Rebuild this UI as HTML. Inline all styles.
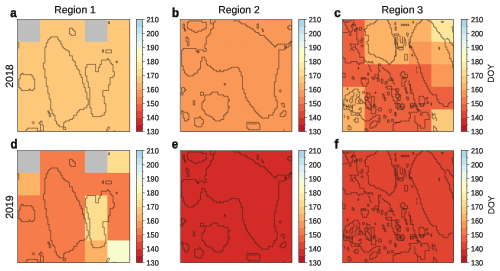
<!DOCTYPE html>
<html><head><meta charset="utf-8"><title>DOY maps</title>
<style>html,body{margin:0;padding:0;background:#fff}svg{display:block}text{font-family:"Liberation Sans",sans-serif;fill:#111}</style></head><body>
<svg width="500" height="271" viewBox="0 0 500 271">
<rect width="500" height="271" fill="#fff"/>
<defs><linearGradient id="cbg" x1="0" y1="0" x2="0" y2="1"><stop offset="0.00000" stop-color="#aad8e9"/><stop offset="0.06741" stop-color="#aad8e9"/><stop offset="0.06741" stop-color="#c1e4ef"/><stop offset="0.12991" stop-color="#c1e4ef"/><stop offset="0.12991" stop-color="#d8eff6"/><stop offset="0.19241" stop-color="#d8eff6"/><stop offset="0.19241" stop-color="#eaf7e6"/><stop offset="0.25491" stop-color="#eaf7e6"/><stop offset="0.25491" stop-color="#f7fcce"/><stop offset="0.31741" stop-color="#f7fcce"/><stop offset="0.31741" stop-color="#fffab7"/><stop offset="0.37991" stop-color="#fffab7"/><stop offset="0.37991" stop-color="#feeca2"/><stop offset="0.44241" stop-color="#feeca2"/><stop offset="0.44241" stop-color="#fede8e"/><stop offset="0.50491" stop-color="#fede8e"/><stop offset="0.50491" stop-color="#fec87a"/><stop offset="0.56741" stop-color="#fec87a"/><stop offset="0.56741" stop-color="#fdb366"/><stop offset="0.62991" stop-color="#fdb366"/><stop offset="0.62991" stop-color="#fa9857"/><stop offset="0.69241" stop-color="#fa9857"/><stop offset="0.69241" stop-color="#f67c4a"/><stop offset="0.75491" stop-color="#f67c4a"/><stop offset="0.75491" stop-color="#ee613e"/><stop offset="0.81741" stop-color="#ee613e"/><stop offset="0.81741" stop-color="#e14430"/><stop offset="0.87991" stop-color="#e14430"/><stop offset="0.87991" stop-color="#d22b27"/><stop offset="0.94241" stop-color="#d22b27"/><stop offset="0.94241" stop-color="#bd1726"/><stop offset="1.00000" stop-color="#bd1726"/></linearGradient></defs>
<g>
<clipPath id="cf00"><rect x="17.75" y="19.95" width="112.30" height="111.80"/></clipPath>
<g clip-path="url(#cf00)">
<rect x="17.60" y="19.25" width="23.74" height="23.82" fill="#bebebe"/>
<rect x="40.04" y="19.25" width="23.74" height="23.82" fill="#fec87a"/>
<rect x="62.48" y="19.25" width="23.74" height="23.82" fill="#fec87a"/>
<rect x="84.92" y="19.25" width="23.74" height="23.82" fill="#bebebe"/>
<rect x="107.36" y="19.25" width="23.74" height="23.82" fill="#fec87a"/>
<rect x="17.60" y="41.77" width="23.74" height="23.82" fill="#fec87a"/>
<rect x="40.04" y="41.77" width="23.74" height="23.82" fill="#fec87a"/>
<rect x="62.48" y="41.77" width="23.74" height="23.82" fill="#fec87a"/>
<rect x="84.92" y="41.77" width="23.74" height="23.82" fill="#fec87a"/>
<rect x="107.36" y="41.77" width="23.74" height="23.82" fill="#fec87a"/>
<rect x="17.60" y="64.29" width="23.74" height="23.82" fill="#fec87a"/>
<rect x="40.04" y="64.29" width="23.74" height="23.82" fill="#fec87a"/>
<rect x="62.48" y="64.29" width="23.74" height="23.82" fill="#fec87a"/>
<rect x="84.92" y="64.29" width="23.74" height="23.82" fill="#fec87a"/>
<rect x="107.36" y="64.29" width="23.74" height="23.82" fill="#fec87a"/>
<rect x="17.60" y="86.81" width="23.74" height="23.82" fill="#fec87a"/>
<rect x="40.04" y="86.81" width="23.74" height="23.82" fill="#fec87a"/>
<rect x="62.48" y="86.81" width="23.74" height="23.82" fill="#fec87a"/>
<rect x="84.92" y="86.81" width="23.74" height="23.82" fill="#fec87a"/>
<rect x="107.36" y="86.81" width="23.74" height="23.82" fill="#fec87a"/>
<rect x="17.60" y="109.33" width="23.74" height="23.82" fill="#fec87a"/>
<rect x="40.04" y="109.33" width="23.74" height="23.82" fill="#fec87a"/>
<rect x="62.48" y="109.33" width="23.74" height="23.82" fill="#fec87a"/>
<rect x="84.92" y="109.33" width="23.74" height="23.82" fill="#fec87a"/>
<rect x="107.36" y="109.33" width="23.74" height="23.82" fill="#fec87a"/>
</g>
<clipPath id="cp00"><rect x="17.3" y="19.5" width="112.50" height="112.00"/></clipPath>
<path clip-path="url(#cp00)" d="M52.1 36.9 L53.5 36.9 L55.0 36.9 L56.5 36.9 L57.9 36.9 L57.9 38.4 L57.9 39.8 L59.3 39.8 L59.3 41.2 L60.8 41.2 L60.8 42.7 L60.8 44.1 L62.2 44.1 L62.2 45.6 L62.2 47.1 L63.7 47.1 L63.7 48.5 L65.2 48.5 L65.2 49.9 L66.6 49.9 L68.0 49.9 L68.0 51.4 L69.5 51.4 L69.5 52.9 L69.5 54.3 L69.5 55.8 L71.0 55.8 L72.4 55.8 L72.4 57.2 L72.4 58.6 L72.4 60.1 L73.8 60.1 L73.8 61.5 L75.3 61.5 L75.3 63.0 L75.3 64.4 L75.3 65.9 L76.8 65.9 L76.8 67.3 L76.8 68.8 L78.2 68.8 L78.2 70.2 L79.7 70.2 L79.7 71.7 L79.7 73.2 L79.7 74.6 L81.1 74.6 L81.1 76.0 L81.1 77.5 L82.5 77.5 L82.5 78.9 L82.5 80.4 L82.5 81.8 L82.5 83.3 L84.0 83.3 L84.0 84.8 L84.0 86.2 L84.0 87.6 L85.4 87.6 L85.4 89.1 L85.4 90.5 L85.4 92.0 L86.9 92.0 L86.9 93.4 L86.9 94.9 L86.9 96.3 L86.9 97.8 L86.9 99.2 L88.3 99.2 L88.3 100.7 L88.3 102.1 L88.3 103.6 L88.3 105.0 L86.9 105.0 L86.9 106.5 L86.9 107.9 L85.4 107.9 L84.0 107.9 L84.0 109.4 L82.5 109.4 L81.1 109.4 L79.7 109.4 L79.7 110.8 L78.2 110.8 L78.2 112.3 L76.8 112.3 L76.8 113.8 L76.8 115.2 L75.3 115.2 L73.8 115.2 L73.8 116.6 L73.8 118.1 L72.4 118.1 L72.4 119.5 L71.0 119.5 L69.5 119.5 L69.5 121.0 L68.0 121.0 L66.6 121.0 L65.2 121.0 L65.2 122.4 L63.7 122.4 L63.7 123.9 L63.7 125.3 L63.7 126.8 L62.2 126.8 L60.8 126.8 L59.3 126.8 L59.3 125.3 L57.9 125.3 L57.9 123.9 L56.5 123.9 L56.5 122.4 L56.5 121.0 L55.0 121.0 L55.0 119.5 L55.0 118.1 L55.0 116.6 L55.0 115.2 L53.5 115.2 L53.5 113.8 L52.1 113.8 L52.1 112.3 L52.1 110.8 L52.1 109.4 L50.7 109.4 L50.7 107.9 L50.7 106.5 L50.7 105.0 L50.7 103.6 L50.7 102.1 L50.7 100.7 L50.7 99.2 L49.2 99.2 L49.2 97.8 L49.2 96.3 L49.2 94.9 L49.2 93.4 L47.8 93.4 L47.8 92.0 L47.8 90.5 L47.8 89.1 L47.8 87.6 L47.8 86.2 L46.3 86.2 L46.3 84.8 L46.3 83.3 L46.3 81.8 L46.3 80.4 L46.3 78.9 L46.3 77.5 L44.9 77.5 L44.9 76.0 L44.9 74.6 L44.9 73.2 L44.9 71.7 L44.9 70.2 L44.9 68.8 L43.4 68.8 L43.4 67.3 L43.4 65.9 L43.4 64.4 L43.4 63.0 L44.9 63.0 L44.9 61.5 L44.9 60.1 L44.9 58.6 L44.9 57.2 L44.9 55.8 L44.9 54.3 L44.9 52.9 L44.9 51.4 L44.9 49.9 L44.9 48.5 L44.9 47.1 L46.3 47.1 L46.3 45.6 L46.3 44.1 L46.3 42.7 L47.8 42.7 L47.8 41.2 L47.8 39.8 L49.2 39.8 L49.2 38.4 L50.7 38.4 L50.7 36.9Z M86.9 64.4 L88.3 64.4 L89.8 64.4 L91.2 64.4 L92.7 64.4 L94.1 64.4 L95.6 64.4 L95.6 65.9 L95.6 67.3 L95.6 68.8 L95.6 70.2 L95.6 71.7 L97.0 71.7 L98.5 71.7 L98.5 70.2 L98.5 68.8 L98.5 67.3 L99.9 67.3 L99.9 65.9 L99.9 64.4 L101.4 64.4 L101.4 63.0 L101.4 61.5 L101.4 60.1 L102.8 60.1 L104.3 60.1 L105.8 60.1 L107.2 60.1 L107.2 58.6 L108.6 58.6 L108.6 60.1 L110.1 60.1 L110.1 61.5 L110.1 63.0 L111.5 63.0 L111.5 64.4 L113.0 64.4 L113.0 65.9 L113.0 67.3 L113.0 68.8 L113.0 70.2 L113.0 71.7 L114.4 71.7 L114.4 73.2 L114.4 74.6 L114.4 76.0 L113.0 76.0 L113.0 77.5 L111.5 77.5 L110.1 77.5 L110.1 78.9 L110.1 80.4 L110.1 81.8 L110.1 83.3 L110.1 84.8 L108.6 84.8 L108.6 86.2 L108.6 87.6 L108.6 89.1 L108.6 90.5 L107.2 90.5 L105.8 90.5 L104.3 90.5 L102.8 90.5 L102.8 92.0 L102.8 93.4 L102.8 94.9 L102.8 96.3 L104.3 96.3 L104.3 97.8 L104.3 99.2 L104.3 100.7 L104.3 102.1 L104.3 103.6 L105.8 103.6 L105.8 105.0 L105.8 106.5 L105.8 107.9 L105.8 109.4 L105.8 110.8 L105.8 112.3 L104.3 112.3 L104.3 113.8 L104.3 115.2 L102.8 115.2 L101.4 115.2 L101.4 116.6 L99.9 116.6 L98.5 116.6 L97.0 116.6 L95.6 116.6 L94.1 116.6 L92.7 116.6 L92.7 115.2 L92.7 113.8 L91.2 113.8 L91.2 112.3 L91.2 110.8 L91.2 109.4 L91.2 107.9 L89.8 107.9 L89.8 106.5 L89.8 105.0 L89.8 103.6 L89.8 102.1 L89.8 100.7 L89.8 99.2 L89.8 97.8 L89.8 96.3 L89.8 94.9 L89.8 93.4 L89.8 92.0 L89.8 90.5 L89.8 89.1 L89.8 87.6 L88.3 87.6 L88.3 86.2 L88.3 84.8 L88.3 83.3 L88.3 81.8 L86.9 81.8 L86.9 80.4 L86.9 78.9 L86.9 77.5 L86.9 76.0 L85.4 76.0 L85.4 74.6 L85.4 73.2 L85.4 71.7 L85.4 70.2 L85.4 68.8 L85.4 67.3 L86.9 67.3 L86.9 65.9Z M21.6 73.2 L23.1 73.2 L23.1 74.6 L24.6 74.6 L26.0 74.6 L27.5 74.6 L28.9 74.6 L30.4 74.6 L31.8 74.6 L31.8 76.0 L33.2 76.0 L33.2 77.5 L33.2 78.9 L34.7 78.9 L34.7 80.4 L34.7 81.8 L34.7 83.3 L34.7 84.8 L34.7 86.2 L34.7 87.6 L34.7 89.1 L33.2 89.1 L33.2 90.5 L31.8 90.5 L30.4 90.5 L30.4 89.1 L28.9 89.1 L28.9 90.5 L27.5 90.5 L26.0 90.5 L24.6 90.5 L23.1 90.5 L21.6 90.5 L21.6 89.1 L20.2 89.1 L20.2 87.6 L18.8 87.6 L18.8 86.2 L18.8 84.8 L18.8 83.3 L18.8 81.8 L18.8 80.4 L18.8 78.9 L20.2 78.9 L20.2 77.5 L20.2 76.0 L20.2 74.6 L21.6 74.6Z M69.5 29.6 L69.5 28.2 L71.0 28.2 L72.4 28.2 L72.4 29.6 L73.8 29.6 L73.8 31.1 L75.3 31.1 L75.3 32.5 L75.3 34.0 L75.3 35.4 L73.8 35.4 L72.4 35.4 L71.0 35.4 L71.0 34.0 L69.5 34.0 L69.5 32.5 L69.5 31.1Z M108.3 21.6 L109.5 21.6 L109.5 23.8 L108.3 23.8Z M102.4 49.8 L103.5 49.8 L103.5 52.3 L102.4 52.3Z M105.8 49.9 L107.2 49.9 L108.6 49.9 L110.1 49.9 L111.5 49.9 L111.5 51.4 L111.5 52.9 L110.1 52.9 L108.6 52.9 L107.2 52.9 L105.8 52.9 L105.8 51.4Z M116.0 61.1 L117.4 61.1 L117.4 62.6 L116.0 62.6Z M63.3 127.3 L65.7 127.3 L65.7 129.5 L63.3 129.5Z M47.8 110.8 L49.2 110.8 L49.2 112.3 L49.2 113.8 L50.7 113.8 L50.7 115.2 L50.7 116.6 L49.2 116.6 L49.2 115.2 L49.2 113.8 L49.2 112.3 L47.8 112.3Z M34.5 122.6 L34.1 123.4 L33.3 123.8 L32.5 123.4 L32.1 122.6 L32.5 121.8 L33.3 121.4 L34.1 121.8Z M39.0 122.4 L40.5 122.4 L40.5 121.0 L42.0 121.0 L42.0 122.4 L42.0 123.9 L42.0 125.3 L43.4 125.3 L43.4 126.8 L43.4 128.2 L43.4 129.7 L43.4 131.1 L42.0 131.1 L40.5 131.1 L40.5 129.7 L40.5 128.2 L40.5 126.8 L40.5 125.3 L40.5 123.9 L39.0 123.9Z M26.0 131.1 L26.0 129.7 L27.5 129.7 L27.5 128.2 L28.9 128.2 L30.4 128.2 L31.8 128.2 L33.2 128.2 L34.7 128.2 L36.1 128.2 L37.6 128.2 L37.6 129.7 L37.6 131.1 L39.0 131.1 L40.5 131.1 M106.5 130.6 L107.7 127.3 L109.2 126.8 L109.5 128.3 L108.0 130.6Z M113.0 131.2 L116.0 131.2 M17.3 42.7 L18.8 42.7 L18.8 44.1 L18.8 45.6 L18.8 47.1 L18.8 48.5" fill="none" stroke="#2a2118" stroke-width="0.5" stroke-linejoin="miter"/>
<rect x="17.3" y="19.5" width="112.50" height="112.00" fill="none" stroke="#333" stroke-width="0.6"/>
</g>
<g>
<rect x="136.3" y="19.5" width="6.20" height="112.00" fill="url(#cbg)"/>
<rect x="136.3" y="19.5" width="6.20" height="112.00" fill="none" stroke="#333" stroke-width="0.6"/>
<line x1="142.5" y1="131.50" x2="144.70" y2="131.50" stroke="#222" stroke-width="0.5"/>
<text transform="translate(146.50 134.35) scale(0.95 1) rotate(0.05)" font-size="7.7" fill="#000" stroke="#000" stroke-width="0.2">130</text>
<line x1="142.5" y1="117.50" x2="144.70" y2="117.50" stroke="#222" stroke-width="0.5"/>
<text transform="translate(146.50 120.35) scale(0.95 1) rotate(0.05)" font-size="7.7" fill="#000" stroke="#000" stroke-width="0.2">140</text>
<line x1="142.5" y1="103.50" x2="144.70" y2="103.50" stroke="#222" stroke-width="0.5"/>
<text transform="translate(146.50 106.35) scale(0.95 1) rotate(0.05)" font-size="7.7" fill="#000" stroke="#000" stroke-width="0.2">150</text>
<line x1="142.5" y1="89.50" x2="144.70" y2="89.50" stroke="#222" stroke-width="0.5"/>
<text transform="translate(146.50 92.35) scale(0.95 1) rotate(0.05)" font-size="7.7" fill="#000" stroke="#000" stroke-width="0.2">160</text>
<line x1="142.5" y1="75.50" x2="144.70" y2="75.50" stroke="#222" stroke-width="0.5"/>
<text transform="translate(146.50 78.35) scale(0.95 1) rotate(0.05)" font-size="7.7" fill="#000" stroke="#000" stroke-width="0.2">170</text>
<line x1="142.5" y1="61.50" x2="144.70" y2="61.50" stroke="#222" stroke-width="0.5"/>
<text transform="translate(146.50 64.35) scale(0.95 1) rotate(0.05)" font-size="7.7" fill="#000" stroke="#000" stroke-width="0.2">180</text>
<line x1="142.5" y1="47.50" x2="144.70" y2="47.50" stroke="#222" stroke-width="0.5"/>
<text transform="translate(146.50 50.35) scale(0.95 1) rotate(0.05)" font-size="7.7" fill="#000" stroke="#000" stroke-width="0.2">190</text>
<line x1="142.5" y1="33.50" x2="144.70" y2="33.50" stroke="#222" stroke-width="0.5"/>
<text transform="translate(146.50 36.35) scale(0.95 1) rotate(0.05)" font-size="7.7" fill="#000" stroke="#000" stroke-width="0.2">200</text>
<line x1="142.5" y1="19.50" x2="144.70" y2="19.50" stroke="#222" stroke-width="0.5"/>
<text transform="translate(146.50 22.35) scale(0.95 1) rotate(0.05)" font-size="7.7" fill="#000" stroke="#000" stroke-width="0.2">210</text>
<line x1="142.50" y1="124.50" x2="143.50" y2="124.50" stroke="#222" stroke-width="0.5"/>
<line x1="142.50" y1="110.50" x2="143.50" y2="110.50" stroke="#222" stroke-width="0.5"/>
<line x1="142.50" y1="96.50" x2="143.50" y2="96.50" stroke="#222" stroke-width="0.5"/>
<line x1="142.50" y1="82.50" x2="143.50" y2="82.50" stroke="#222" stroke-width="0.5"/>
<line x1="142.50" y1="68.50" x2="143.50" y2="68.50" stroke="#222" stroke-width="0.5"/>
<line x1="142.50" y1="54.50" x2="143.50" y2="54.50" stroke="#222" stroke-width="0.5"/>
<line x1="142.50" y1="40.50" x2="143.50" y2="40.50" stroke="#222" stroke-width="0.5"/>
<line x1="142.50" y1="26.50" x2="143.50" y2="26.50" stroke="#222" stroke-width="0.5"/>
</g>
<g>
<clipPath id="cf01"><rect x="180.65" y="19.95" width="111.50" height="111.80"/></clipPath>
<g clip-path="url(#cf01)">
<rect x="180.40" y="19.25" width="23.62" height="23.82" fill="#fa9857"/>
<rect x="202.72" y="19.25" width="23.62" height="23.82" fill="#fa9857"/>
<rect x="225.04" y="19.25" width="23.62" height="23.82" fill="#fa9857"/>
<rect x="247.36" y="19.25" width="23.62" height="23.82" fill="#fa9857"/>
<rect x="269.68" y="19.25" width="23.62" height="23.82" fill="#fa9857"/>
<rect x="180.40" y="41.77" width="23.62" height="23.82" fill="#fa9857"/>
<rect x="202.72" y="41.77" width="23.62" height="23.82" fill="#fa9857"/>
<rect x="225.04" y="41.77" width="23.62" height="23.82" fill="#fa9857"/>
<rect x="247.36" y="41.77" width="23.62" height="23.82" fill="#fa9857"/>
<rect x="269.68" y="41.77" width="23.62" height="23.82" fill="#fa9857"/>
<rect x="180.40" y="64.29" width="23.62" height="23.82" fill="#fa9857"/>
<rect x="202.72" y="64.29" width="23.62" height="23.82" fill="#fa9857"/>
<rect x="225.04" y="64.29" width="23.62" height="23.82" fill="#fa9857"/>
<rect x="247.36" y="64.29" width="23.62" height="23.82" fill="#fa9857"/>
<rect x="269.68" y="64.29" width="23.62" height="23.82" fill="#fa9857"/>
<rect x="180.40" y="86.81" width="23.62" height="23.82" fill="#fa9857"/>
<rect x="202.72" y="86.81" width="23.62" height="23.82" fill="#fa9857"/>
<rect x="225.04" y="86.81" width="23.62" height="23.82" fill="#fa9857"/>
<rect x="247.36" y="86.81" width="23.62" height="23.82" fill="#fa9857"/>
<rect x="269.68" y="86.81" width="23.62" height="23.82" fill="#fa9857"/>
<rect x="180.40" y="109.33" width="23.62" height="23.82" fill="#fa9857"/>
<rect x="202.72" y="109.33" width="23.62" height="23.82" fill="#fa9857"/>
<rect x="225.04" y="109.33" width="23.62" height="23.82" fill="#fa9857"/>
<rect x="247.36" y="109.33" width="23.62" height="23.82" fill="#fa9857"/>
<rect x="269.68" y="109.33" width="23.62" height="23.82" fill="#fa9857"/>
</g>
<clipPath id="cp01"><rect x="180.2" y="19.5" width="111.70" height="112.00"/></clipPath>
<path clip-path="url(#cp01)" d="M210.6 19.5 L210.6 20.9 L210.6 22.4 L210.6 23.9 L212.1 23.9 L213.5 23.9 L213.5 25.3 L213.5 26.8 L213.5 28.2 L212.1 28.2 L212.1 29.6 L210.6 29.6 L210.6 31.1 L210.6 32.5 L210.6 34.0 L209.2 34.0 L209.2 35.4 L207.8 35.4 L207.8 36.9 L206.3 36.9 L206.3 38.4 L206.3 39.8 L206.3 41.2 L206.3 42.7 L206.3 44.1 L204.8 44.1 L204.8 45.6 L204.8 47.1 L204.8 48.5 L206.3 48.5 L206.3 49.9 L206.3 51.4 L204.8 51.4 L203.4 51.4 L203.4 49.9 L201.9 49.9 L200.5 49.9 L199.0 49.9 L197.6 49.9 L197.6 51.4 L199.0 51.4 L199.0 52.9 L197.6 52.9 L197.6 51.4 L196.1 51.4 L196.1 49.9 L196.1 48.5 L194.7 48.5 L193.2 48.5 L191.8 48.5 L190.3 48.5 L188.9 48.5 L187.4 48.5 L186.0 48.5 L184.5 48.5 L183.1 48.5 L183.1 49.9 L181.6 49.9 L181.6 51.4 L181.6 52.9 L181.6 54.3 L181.6 55.8 L181.6 57.2 L181.6 58.6 L181.6 60.1 L181.6 61.5 L181.6 63.0 L181.6 64.4 L181.6 65.9 L183.1 65.9 L183.1 67.3 L183.1 68.8 L183.1 70.2 L184.5 70.2 L184.5 71.7 L184.5 73.2 L186.0 73.2 L186.0 74.6 L187.4 74.6 L187.4 76.0 L188.9 76.0 L190.3 76.0 L191.8 76.0 L193.2 76.0 L193.2 74.6 L194.7 74.6 L194.7 73.2 L196.1 73.2 L197.6 73.2 L197.6 71.7 L197.6 70.2 L199.0 70.2 L199.0 68.8 L200.5 68.8 L200.5 67.3 L200.5 65.9 L200.5 64.4 L200.5 63.0 L200.5 61.5 L201.9 61.5 L201.9 60.1 L201.9 58.6 L201.9 57.2 L203.4 57.2 L204.8 57.2 L204.8 58.6 L204.8 60.1 L206.3 60.1 L206.3 61.5 L206.3 63.0 L206.3 64.4 L207.8 64.4 L207.8 65.9 L209.2 65.9 L210.6 65.9 L210.6 67.3 L212.1 67.3 L212.1 68.8 L213.5 68.8 L213.5 70.2 L215.0 70.2 L216.4 70.2 L216.4 71.7 L217.9 71.7 L219.3 71.7 L219.3 70.2 L220.8 70.2 L220.8 71.7 L222.2 71.7 L223.7 71.7 L223.7 70.2 L225.1 70.2 L226.6 70.2 L228.0 70.2 L228.0 68.8 L229.5 68.8 L230.9 68.8 L230.9 67.3 L232.4 67.3 L233.8 67.3 L235.3 67.3 L236.8 67.3 L238.2 67.3 L238.2 68.8 L239.6 68.8 L239.6 70.2 L239.6 71.7 L241.1 71.7 L241.1 73.2 L241.1 74.6 L241.1 76.0 L242.5 76.0 L242.5 77.5 L242.5 78.9 L242.5 80.4 L242.5 81.8 L242.5 83.3 L242.5 84.8 L242.5 86.2 L242.5 87.6 L242.5 89.1 L244.0 89.1 L244.0 90.5 L244.0 92.0 L244.0 93.4 L245.4 93.4 L245.4 94.9 L245.4 96.3 L245.4 97.8 L246.9 97.8 L246.9 99.2 L246.9 100.7 L248.3 100.7 L248.3 102.1 L249.8 102.1 L249.8 103.6 L249.8 105.0 L251.2 105.0 L251.2 106.5 L252.7 106.5 L252.7 107.9 L254.1 107.9 L254.1 109.4 L254.1 110.8 L255.6 110.8 L255.6 112.3 L257.0 112.3 L257.0 113.8 L258.5 113.8 L258.5 115.2 L259.9 115.2 L259.9 116.6 L261.4 116.6 L261.4 118.1 L262.8 118.1 L264.3 118.1 L265.8 118.1 L267.2 118.1 L268.6 118.1 L268.6 116.6 L268.6 115.2 L270.1 115.2 L271.5 115.2 L273.0 115.2 L273.0 113.8 L273.0 112.3 L274.4 112.3 L274.4 110.8 L274.4 109.4 L275.9 109.4 L275.9 107.9 L277.3 107.9 L277.3 106.5 L277.3 105.0 L277.3 103.6 L277.3 102.1 L277.3 100.7 L275.9 100.7 L275.9 99.2 L275.9 97.8 L275.9 96.3 L274.4 96.3 L274.4 94.9 L274.4 93.4 L274.4 92.0 L274.4 90.5 L274.4 89.1 L274.4 87.6 L274.4 86.2 L274.4 84.8 L274.4 83.3 L274.4 81.8 L275.9 81.8 L275.9 80.4 L275.9 78.9 L275.9 77.5 L275.9 76.0 L275.9 74.6 L277.3 74.6 L277.3 73.2 L277.3 71.7 L277.3 70.2 L277.3 68.8 L278.8 68.8 L278.8 67.3 L278.8 65.9 L278.8 64.4 L278.8 63.0 L278.8 61.5 L278.8 60.1 L278.8 58.6 L278.8 57.2 L278.8 55.8 L278.8 54.3 L278.8 52.9 L278.8 51.4 L278.8 49.9 L280.2 49.9 L281.7 49.9 L283.1 49.9 L284.6 49.9 L284.6 48.5 L286.0 48.5 L286.0 47.1 L284.6 47.1 L284.6 45.6 L284.6 44.1 L283.1 44.1 L281.7 44.1 L280.2 44.1 L278.8 44.1 L277.3 44.1 L277.3 45.6 L275.9 45.6 L275.9 47.1 L274.4 47.1 L274.4 45.6 L273.0 45.6 L273.0 44.1 L271.5 44.1 L271.5 42.7 L270.1 42.7 L270.1 41.2 L268.6 41.2 L268.6 39.8 L267.2 39.8 L267.2 38.4 L265.8 38.4 L265.8 36.9 L264.3 36.9 L264.3 35.4 L262.8 35.4 L261.4 35.4 L259.9 35.4 L259.9 34.0 L258.5 34.0 L258.5 32.5 L257.0 32.5 L255.6 32.5 L255.6 31.1 L254.1 31.1 L254.1 29.6 L252.7 29.6 L252.7 28.2 L251.2 28.2 L249.8 28.2 L249.8 26.8 L248.3 26.8 L246.9 26.8 L246.9 25.3 L245.4 25.3 L245.4 23.9 L244.0 23.9 L242.5 23.9 L241.1 23.9 L241.1 22.4 L239.6 22.4 L239.6 20.9 L238.2 20.9 L236.8 20.9 L235.3 20.9 L233.8 20.9 L233.8 19.5 M187.4 22.4 L188.9 22.4 L188.9 20.9 L190.3 20.9 L191.8 20.9 L193.2 20.9 L194.7 20.9 L196.1 20.9 L197.6 20.9 L199.0 20.9 L200.5 20.9 L201.9 20.9 L201.9 22.4 L203.4 22.4 L204.8 22.4 L206.3 22.4 L206.3 23.9 L206.3 25.3 L206.3 26.8 L206.3 28.2 L204.8 28.2 L204.8 29.6 L203.4 29.6 L201.9 29.6 L201.9 31.1 L200.5 31.1 L199.0 31.1 L197.6 31.1 L197.6 32.5 L196.1 32.5 L194.7 32.5 L194.7 31.1 L193.2 31.1 L191.8 31.1 L191.8 29.6 L190.3 29.6 L188.9 29.6 L188.9 28.2 L187.4 28.2 L187.4 26.8 L187.4 25.3 L187.4 23.9Z M183.1 23.9 L184.5 23.9 L184.5 25.3 L184.5 26.8 L184.5 28.2 L184.5 29.6 L186.0 29.6 L186.0 31.1 L184.5 31.1 L184.5 29.6 L184.5 28.2 L183.1 28.2 L183.1 26.8 L183.1 25.3Z M187.4 36.9 L187.4 38.4 L188.9 38.4 L188.9 39.8 L188.9 41.2 L188.9 42.7 L188.9 44.1 L188.9 45.6 L187.4 45.6 L187.4 44.1 L187.4 42.7 L187.4 41.2 L186.0 41.2 L186.0 39.8 L186.0 38.4 L186.0 36.9Z M213.5 23.9 L213.5 22.4 L215.0 22.4 L215.0 20.9 L215.0 19.5 M257.0 23.9 L258.5 23.9 L258.5 25.3 L258.5 26.8 L258.5 28.2 L257.0 28.2 L257.0 26.8 L257.0 25.3Z M262.0 28.3 L262.8 29.1 L263.5 32.1 L262.6 31.1Z M287.5 26.8 L288.9 26.8 L288.9 25.3 L290.4 25.3 L291.8 25.3 L291.8 26.8 L291.8 28.2 L291.8 29.6 L290.4 29.6 L288.9 29.6 L288.9 28.2 L287.5 28.2Z M286.0 48.5 L286.0 47.1 L286.0 45.6 L286.0 44.1 L287.5 44.1 L288.9 44.1 L288.9 42.7 L290.4 42.7 L290.4 41.2 L291.8 41.2 L291.8 42.7 L290.4 42.7 L290.4 44.1 L290.4 45.6 L288.9 45.6 L288.9 47.1 L287.5 47.1 L286.0 47.1Z M224.2 83.6 L225.4 83.6 L225.4 85.1 L224.2 85.1Z M181.6 87.6 L183.1 87.6 L184.5 87.6 L184.5 89.1 L186.0 89.1 L186.0 90.5 L184.5 90.5 L184.5 92.0 L183.1 92.0 L183.1 93.4 L183.1 94.9 L181.6 94.9 L180.2 94.9 L180.2 93.4 L181.6 93.4 L181.6 92.0 L181.6 90.5 L181.6 89.1Z M200.5 92.3 L203.5 92.3 L203.5 95.3 L200.5 95.3Z M204.8 97.8 L204.8 96.3 L204.8 94.9 L206.3 94.9 L207.8 94.9 L209.2 94.9 L210.6 94.9 L210.6 93.4 L212.1 93.4 L212.1 92.0 L213.5 92.0 L215.0 92.0 L216.4 92.0 L217.9 92.0 L217.9 93.4 L217.9 94.9 L219.3 94.9 L220.8 94.9 L222.2 94.9 L223.7 94.9 L223.7 96.3 L225.1 96.3 L226.6 96.3 L228.0 96.3 L228.0 97.8 L228.0 99.2 L229.5 99.2 L229.5 100.7 L228.0 100.7 L228.0 102.1 L228.0 103.6 L228.0 105.0 L228.0 106.5 L229.5 106.5 L229.5 107.9 L228.0 107.9 L228.0 109.4 L228.0 110.8 L228.0 112.3 L226.6 112.3 L226.6 113.8 L225.1 113.8 L225.1 115.2 L223.7 115.2 L223.7 116.6 L223.7 118.1 L223.7 119.5 L222.2 119.5 L220.8 119.5 L220.8 121.0 L219.3 121.0 L217.9 121.0 L216.4 121.0 L215.0 121.0 L215.0 119.5 L213.5 119.5 L213.5 118.1 L212.1 118.1 L212.1 116.6 L210.6 116.6 L209.2 116.6 L209.2 115.2 L207.8 115.2 L206.3 115.2 L206.3 113.8 L204.8 113.8 L204.8 112.3 L204.8 110.8 L203.4 110.8 L203.4 109.4 L201.9 109.4 L201.9 107.9 L201.9 106.5 L201.9 105.0 L201.9 103.6 L201.9 102.1 L203.4 102.1 L203.4 100.7 L204.8 100.7 L204.8 99.2Z M193.2 100.7 L194.7 100.7 L194.7 102.1 L194.7 103.6 L194.7 105.0 L193.2 105.0 L193.2 103.6 L193.2 102.1Z M181.6 110.8 L183.1 110.8 L183.1 112.3 L184.5 112.3 L186.0 112.3 L187.4 112.3 L187.4 113.8 L188.9 113.8 L188.9 115.2 L188.9 116.6 L188.9 118.1 L188.9 119.5 L187.4 119.5 L187.4 121.0 L186.0 121.0 L184.5 121.0 L184.5 119.5 L184.5 118.1 L183.1 118.1 L183.1 116.6 L183.1 115.2 L183.1 113.8 L181.6 113.8 L181.6 112.3Z M194.7 118.1 L196.1 118.1 L197.6 118.1 L199.0 118.1 L199.0 116.6 L200.5 116.6 L200.5 118.1 L201.9 118.1 L201.9 119.5 L203.4 119.5 L203.4 121.0 L203.4 122.4 L203.4 123.9 L201.9 123.9 L201.9 125.3 L201.9 126.8 L200.5 126.8 L199.0 126.8 L197.6 126.8 L196.1 126.8 L196.1 125.3 L194.7 125.3 L194.7 123.9 L194.7 122.4 L194.7 121.0 L194.7 119.5Z M246.9 122.4 L248.3 122.4 L249.8 122.4 L251.2 122.4 L252.7 122.4 L254.1 122.4 L255.6 122.4 L257.0 122.4 L258.5 122.4 L258.5 123.9 L259.9 123.9 L259.9 125.3 L259.9 126.8 L259.9 128.2 L259.9 129.7 L258.5 129.7 L257.0 129.7 L255.6 129.7 L254.1 129.7 L252.7 129.7 L251.2 129.7 L249.8 129.7 L248.3 129.7 L248.3 128.2 L246.9 128.2 L246.9 126.8 L246.9 125.3 L246.9 123.9Z M248.3 123.9 L249.8 123.9 L251.2 123.9 L252.7 123.9 L254.1 123.9 L255.6 123.9 L257.0 123.9 M281.2 103.3 L284.2 103.3 L284.5 107.3 L283.0 106.6 L281.5 104.3Z M280.2 113.8 L281.7 113.8 L281.7 112.3 L283.1 112.3 L283.1 110.8 L284.6 110.8 L286.0 110.8 L286.0 112.3 L286.0 113.8 L286.0 115.2 L284.6 115.2 L284.6 116.6 L283.1 116.6 L281.7 116.6 L280.2 116.6 L280.2 115.2Z M281.4 90.8 L281.1 91.5 L280.4 91.8 L279.7 91.5 L279.4 90.8 L279.7 90.1 L280.4 89.8 L281.1 90.1Z M284.2 129.4 L284.2 131.7" fill="none" stroke="#2a2118" stroke-width="0.5" stroke-linejoin="miter"/>
<rect x="180.2" y="19.5" width="111.70" height="112.00" fill="none" stroke="#333" stroke-width="0.6"/>
</g>
<g>
<rect x="298.8" y="19.5" width="6.00" height="112.00" fill="url(#cbg)"/>
<rect x="298.8" y="19.5" width="6.00" height="112.00" fill="none" stroke="#333" stroke-width="0.6"/>
<line x1="304.8" y1="131.50" x2="307.00" y2="131.50" stroke="#222" stroke-width="0.5"/>
<text transform="translate(308.80 134.35) scale(0.95 1) rotate(0.05)" font-size="7.7" fill="#000" stroke="#000" stroke-width="0.2">130</text>
<line x1="304.8" y1="117.50" x2="307.00" y2="117.50" stroke="#222" stroke-width="0.5"/>
<text transform="translate(308.80 120.35) scale(0.95 1) rotate(0.05)" font-size="7.7" fill="#000" stroke="#000" stroke-width="0.2">140</text>
<line x1="304.8" y1="103.50" x2="307.00" y2="103.50" stroke="#222" stroke-width="0.5"/>
<text transform="translate(308.80 106.35) scale(0.95 1) rotate(0.05)" font-size="7.7" fill="#000" stroke="#000" stroke-width="0.2">150</text>
<line x1="304.8" y1="89.50" x2="307.00" y2="89.50" stroke="#222" stroke-width="0.5"/>
<text transform="translate(308.80 92.35) scale(0.95 1) rotate(0.05)" font-size="7.7" fill="#000" stroke="#000" stroke-width="0.2">160</text>
<line x1="304.8" y1="75.50" x2="307.00" y2="75.50" stroke="#222" stroke-width="0.5"/>
<text transform="translate(308.80 78.35) scale(0.95 1) rotate(0.05)" font-size="7.7" fill="#000" stroke="#000" stroke-width="0.2">170</text>
<line x1="304.8" y1="61.50" x2="307.00" y2="61.50" stroke="#222" stroke-width="0.5"/>
<text transform="translate(308.80 64.35) scale(0.95 1) rotate(0.05)" font-size="7.7" fill="#000" stroke="#000" stroke-width="0.2">180</text>
<line x1="304.8" y1="47.50" x2="307.00" y2="47.50" stroke="#222" stroke-width="0.5"/>
<text transform="translate(308.80 50.35) scale(0.95 1) rotate(0.05)" font-size="7.7" fill="#000" stroke="#000" stroke-width="0.2">190</text>
<line x1="304.8" y1="33.50" x2="307.00" y2="33.50" stroke="#222" stroke-width="0.5"/>
<text transform="translate(308.80 36.35) scale(0.95 1) rotate(0.05)" font-size="7.7" fill="#000" stroke="#000" stroke-width="0.2">200</text>
<line x1="304.8" y1="19.50" x2="307.00" y2="19.50" stroke="#222" stroke-width="0.5"/>
<text transform="translate(308.80 22.35) scale(0.95 1) rotate(0.05)" font-size="7.7" fill="#000" stroke="#000" stroke-width="0.2">210</text>
<line x1="304.80" y1="124.50" x2="305.80" y2="124.50" stroke="#222" stroke-width="0.5"/>
<line x1="304.80" y1="110.50" x2="305.80" y2="110.50" stroke="#222" stroke-width="0.5"/>
<line x1="304.80" y1="96.50" x2="305.80" y2="96.50" stroke="#222" stroke-width="0.5"/>
<line x1="304.80" y1="82.50" x2="305.80" y2="82.50" stroke="#222" stroke-width="0.5"/>
<line x1="304.80" y1="68.50" x2="305.80" y2="68.50" stroke="#222" stroke-width="0.5"/>
<line x1="304.80" y1="54.50" x2="305.80" y2="54.50" stroke="#222" stroke-width="0.5"/>
<line x1="304.80" y1="40.50" x2="305.80" y2="40.50" stroke="#222" stroke-width="0.5"/>
<line x1="304.80" y1="26.50" x2="305.80" y2="26.50" stroke="#222" stroke-width="0.5"/>
</g>
<g>
<clipPath id="cf02"><rect x="342.75" y="19.95" width="111.20" height="111.80"/></clipPath>
<g clip-path="url(#cf02)">
<rect x="342.40" y="19.25" width="23.53" height="23.82" fill="#ee613e"/>
<rect x="364.63" y="19.25" width="23.53" height="23.82" fill="#fdb366"/>
<rect x="386.86" y="19.25" width="23.53" height="23.82" fill="#fdb366"/>
<rect x="409.09" y="19.25" width="23.53" height="23.82" fill="#fdb366"/>
<rect x="431.32" y="19.25" width="23.53" height="23.82" fill="#fee79b"/>
<rect x="342.40" y="41.77" width="23.53" height="23.82" fill="#ee613e"/>
<rect x="364.63" y="41.77" width="23.53" height="23.82" fill="#fdb366"/>
<rect x="386.86" y="41.77" width="23.53" height="23.82" fill="#fdb366"/>
<rect x="409.09" y="41.77" width="23.53" height="23.82" fill="#fa9857"/>
<rect x="431.32" y="41.77" width="23.53" height="23.82" fill="#fdb366"/>
<rect x="342.40" y="64.29" width="23.53" height="23.82" fill="#ee613e"/>
<rect x="364.63" y="64.29" width="23.53" height="23.82" fill="#ee613e"/>
<rect x="386.86" y="64.29" width="23.53" height="23.82" fill="#ee613e"/>
<rect x="409.09" y="64.29" width="23.53" height="23.82" fill="#ee613e"/>
<rect x="431.32" y="64.29" width="23.53" height="23.82" fill="#fa9857"/>
<rect x="342.40" y="86.81" width="23.53" height="23.82" fill="#fdb366"/>
<rect x="364.63" y="86.81" width="23.53" height="23.82" fill="#ee613e"/>
<rect x="386.86" y="86.81" width="23.53" height="23.82" fill="#ee613e"/>
<rect x="409.09" y="86.81" width="23.53" height="23.82" fill="#ee613e"/>
<rect x="431.32" y="86.81" width="23.53" height="23.82" fill="#ee613e"/>
<rect x="342.40" y="109.33" width="23.53" height="23.82" fill="#fdb366"/>
<rect x="364.63" y="109.33" width="23.53" height="23.82" fill="#ee613e"/>
<rect x="386.86" y="109.33" width="23.53" height="23.82" fill="#ee613e"/>
<rect x="409.09" y="109.33" width="23.53" height="23.82" fill="#ee613e"/>
<rect x="431.32" y="109.33" width="23.53" height="23.82" fill="#fdc97a"/>
</g>
<clipPath id="cp02"><rect x="342.3" y="19.5" width="111.40" height="112.00"/></clipPath>
<path clip-path="url(#cp02)" d="M377.1 19.5 L377.1 20.9 L375.7 20.9 L375.7 22.4 L374.2 22.4 L374.2 23.9 L372.8 23.9 L371.3 23.9 L369.9 23.9 L369.9 25.3 L368.4 25.3 L366.9 25.3 L366.9 26.8 L366.9 28.2 L365.5 28.2 L365.5 29.6 L364.1 29.6 L364.1 31.1 L365.5 31.1 L365.5 32.5 L365.5 34.0 L365.5 35.4 L366.9 35.4 L368.4 35.4 L368.4 36.9 L368.4 38.4 L368.4 39.8 L368.4 41.2 L366.9 41.2 L366.9 42.7 L366.9 44.1 L368.4 44.1 L368.4 45.6 L368.4 47.1 L368.4 48.5 L368.4 49.9 L368.4 51.4 L368.4 52.9 L369.9 52.9 L369.9 54.3 L371.3 54.3 L372.8 54.3 L374.2 54.3 L374.2 55.8 L375.7 55.8 L375.7 57.2 L377.1 57.2 L378.6 57.2 L380.0 57.2 L380.0 58.6 L381.4 58.6 L382.9 58.6 L382.9 60.1 L384.4 60.1 L385.8 60.1 L385.8 61.5 L387.2 61.5 L387.2 63.0 L388.7 63.0 L388.7 64.4 L390.2 64.4 L390.2 63.0 L391.6 63.0 L391.6 61.5 L393.1 61.5 L393.1 60.1 L394.5 60.1 L394.5 58.6 L394.5 57.2 L394.5 55.8 L395.9 55.8 L395.9 54.3 L395.9 52.9 L395.9 51.4 L395.9 49.9 L395.9 48.5 L395.9 47.1 L395.9 45.6 L395.9 44.1 L394.5 44.1 L394.5 42.7 L394.5 41.2 L394.5 39.8 L394.5 38.4 L394.5 36.9 L393.1 36.9 L393.1 35.4 L393.1 34.0 L391.6 34.0 L391.6 32.5 L391.6 31.1 L391.6 29.6 L391.6 28.2 L390.2 28.2 L390.2 26.8 L390.2 25.3 L390.2 23.9 L388.7 23.9 L388.7 22.4 L388.7 20.9 L387.2 20.9 L387.2 19.5 M423.5 19.5 L422.1 19.5 L422.1 20.9 L420.6 20.9 L420.6 22.4 L419.1 22.4 L419.1 23.9 L417.7 23.9 L416.2 23.9 L416.2 25.3 L416.2 26.8 L414.8 26.8 L414.8 28.2 L414.8 29.6 L413.4 29.6 L413.4 31.1 L413.4 32.5 L411.9 32.5 L411.9 34.0 L411.9 35.4 L411.9 36.9 L410.4 36.9 L410.4 38.4 L410.4 39.8 L410.4 41.2 L410.4 42.7 L409.0 42.7 L409.0 44.1 L409.0 45.6 L410.4 45.6 L410.4 47.1 L411.9 47.1 L411.9 48.5 L411.9 49.9 L413.4 49.9 L413.4 51.4 L413.4 52.9 L414.8 52.9 L414.8 54.3 L414.8 55.8 L416.2 55.8 L416.2 57.2 L416.2 58.6 L417.7 58.6 L417.7 60.1 L417.7 61.5 L417.7 63.0 L419.1 63.0 L419.1 64.4 L419.1 65.9 L419.1 67.3 L420.6 67.3 L420.6 68.8 L420.6 70.2 L420.6 71.7 L420.6 73.2 L422.1 73.2 L422.1 74.6 L422.1 76.0 L422.1 77.5 L423.5 77.5 L423.5 78.9 L423.5 80.4 L424.9 80.4 L424.9 81.8 L424.9 83.3 L426.4 83.3 L426.4 84.8 L426.4 86.2 L427.9 86.2 L427.9 87.6 L427.9 89.1 L429.3 89.1 L429.3 90.5 L429.3 92.0 L430.8 92.0 L430.8 93.4 L432.2 93.4 L432.2 94.9 L433.6 94.9 L435.1 94.9 L436.6 94.9 L436.6 96.3 L436.6 97.8 L436.6 99.2 L438.0 99.2 L438.0 100.7 L438.0 102.1 L439.4 102.1 L439.4 103.6 L440.9 103.6 L442.4 103.6 L442.4 105.0 L443.8 105.0 L443.8 106.5 L445.2 106.5 L446.7 106.5 L448.1 106.5 L448.1 105.0 L448.1 103.6 L449.6 103.6 L449.6 102.1 L451.1 102.1 L452.5 102.1 L453.9 102.1 M426.4 19.5 L427.9 19.5 L427.9 20.9 L429.3 20.9 L430.8 20.9 L430.8 22.4 L432.2 22.4 L432.2 23.9 L433.6 23.9 L433.6 25.3 L433.6 26.8 L435.1 26.8 L435.1 28.2 L436.6 28.2 L436.6 29.6 L436.6 31.1 L438.0 31.1 L438.0 32.5 L439.4 32.5 L439.4 34.0 L440.9 34.0 L440.9 35.4 L440.9 36.9 L442.4 36.9 L442.4 38.4 L443.8 38.4 L443.8 39.8 L445.2 39.8 L445.2 41.2 L445.2 42.7 L445.2 44.1 L445.2 45.6 L445.2 47.1 L446.7 47.1 L446.7 48.5 L446.7 49.9 L448.1 49.9 L448.1 51.4 L448.1 52.9 L449.6 52.9 L449.6 54.3 L449.6 55.8 L449.6 57.2 L449.6 58.6 L451.1 58.6 L451.1 60.1 L451.1 61.5 L452.5 61.5 L452.5 63.0 L452.5 64.4 L452.5 65.9 L452.5 67.3 L453.9 67.3 L453.9 68.8 L453.9 70.2 M446.7 39.8 L446.7 38.4 L448.1 38.4 L448.1 39.8 L449.6 39.8 L449.6 41.2 L449.6 42.7 L451.1 42.7 L451.1 44.1 L452.5 44.1 L452.5 45.6 L453.9 45.6 L453.9 47.1 M342.3 57.2 L343.8 57.2 L343.8 58.6 L345.2 58.6 L345.2 60.1 L345.2 61.5 L345.2 63.0 L346.7 63.0 L348.1 63.0 L349.6 63.0 L351.0 63.0 L351.0 61.5 L352.4 61.5 L353.9 61.5 L355.4 61.5 L356.8 61.5 L356.8 63.0 L358.2 63.0 L358.2 64.4 L359.7 64.4 L359.7 63.0 L361.2 63.0 L362.6 63.0 L364.1 63.0 L364.1 61.5 L364.1 60.1 L364.1 58.6 L364.1 57.2 L362.6 57.2 L361.2 57.2 L359.7 57.2 L359.7 55.8 L359.7 54.3 L359.7 52.9 L358.2 52.9 L358.2 51.4 L358.2 49.9 L356.8 49.9 L356.8 48.5 L355.4 48.5 L355.4 47.1 M349.6 44.1 L351.0 44.1 L352.4 44.1 L353.9 44.1 L355.4 44.1 L355.4 45.6 L355.4 47.1 L353.9 47.1 L352.4 47.1 L351.0 47.1 L351.0 45.6 L351.0 44.1Z M349.6 49.9 L351.0 49.9 L351.0 48.5 L352.4 48.5 L352.4 49.9 L353.9 49.9 L353.9 51.4 M342.3 20.9 L343.8 20.9 L343.8 22.4 L345.2 22.4 L345.2 23.9 L345.2 25.3 L346.7 25.3 L346.7 26.8 L346.7 28.2 L348.1 28.2 L348.1 29.6 L348.1 31.1 L349.6 31.1 L349.6 32.5 L349.6 34.0 L349.6 35.4 L351.0 35.4 L351.0 34.0 L351.0 32.5 L351.0 31.1 L352.4 31.1 L352.4 29.6 L352.4 28.2 L352.4 26.8 L351.0 26.8 L351.0 25.3 L352.4 25.3 L352.4 23.9 L353.9 23.9 L353.9 22.4 L353.9 20.9 L353.9 19.5 M342.3 32.5 L343.8 32.5 L345.2 32.5 L346.7 32.5 L348.1 32.5 M342.3 20.9 L343.8 20.9 L345.2 20.9 L346.7 20.9 L346.7 22.4 L348.1 22.4 L348.1 20.9 L349.6 20.9 L351.0 20.9 L352.4 20.9 M356.8 28.2 L356.8 29.6 L356.8 31.1 L356.8 32.5 L356.8 34.0 L356.8 35.4 L356.8 36.9 L356.8 38.4 L356.8 39.8 L358.2 39.8 L358.2 41.2 L358.2 42.7 M358.7 43.9 L358.4 44.5 L357.8 44.8 L357.2 44.5 L356.9 43.9 L357.2 43.3 L357.8 43.0 L358.4 43.3Z M356.2 27.7 L357.4 27.7 L357.4 29.7 L356.2 29.7Z M359.2 27.7 L361.6 27.7 L361.6 30.1 L360.0 30.9 L359.2 30.1Z M354.4 29.1 L355.4 29.1 L355.4 31.5 L354.4 31.5Z M352.6 24.3 L355.6 24.5 L355.4 26.1 L353.0 26.1Z M363.4 39.0 L363.2 39.5 L362.6 39.9 L361.8 39.9 L361.2 39.5 L361.0 39.0 L361.2 38.5 L361.8 38.1 L362.6 38.1 L363.2 38.5Z M362.8 41.5 L362.5 42.1 L361.8 42.5 L360.8 42.5 L360.1 42.1 L359.8 41.5 L360.1 40.9 L360.8 40.5 L361.8 40.5 L362.5 40.9Z M363.3 45.7 L363.0 46.5 L362.2 46.8 L361.4 46.5 L361.1 45.7 L361.4 44.9 L362.2 44.6 L363.0 44.9Z M394.8 22.5 L395.8 22.5 L395.8 24.9 L394.8 24.9Z M395.2 26.7 L396.2 26.7 L396.2 30.3 L395.2 30.3Z M394.6 33.9 L398.8 33.9 L398.8 35.7 L394.6 35.7Z M395.9 38.4 L395.9 39.8 L395.9 41.2 L395.9 42.7 L397.4 42.7 L397.4 44.1 L397.4 45.6 M401.3 24.1 L402.3 24.1 L402.3 25.7 L401.3 25.7Z M403.4 24.1 L404.4 24.1 L404.4 25.7 L403.4 25.7Z M405.6 24.1 L406.6 24.1 L406.6 25.7 L405.6 25.7Z M407.8 24.1 L408.8 24.1 L408.8 25.7 L407.8 25.7Z M412.8 21.3 L413.6 21.3 L413.6 23.1 L412.8 23.1Z M441.2 21.3 L443.6 21.5 L443.2 22.7 L441.6 22.5Z M451.1 26.8 L452.5 26.8 L452.5 28.2 L452.5 29.6 L452.5 31.1 L452.5 32.5 M397.2 36.2 L397.2 44.4 L398.8 47.6 L402.5 47.6 L404.1 44.4 L404.5 37.0 M400.0 35.4 L400.4 42.7 L402.5 43.1 L402.5 36.2 M395.6 37.0 L395.6 46.8 L397.2 49.2 M405.3 38.7 L406.1 44.4 L405.3 46.6 M409.0 38.7 L409.4 44.4 L409.8 47.6 M406.5 33.0 L408.6 33.3 L407.6 36.6 L406.8 35.6Z M364.1 60.1 L365.5 60.1 L365.5 61.5 L366.9 61.5 L366.9 63.0 L368.4 63.0 L368.4 61.5 L369.9 61.5 L369.9 63.0 L371.3 63.0 L371.3 61.5 L372.8 61.5 L372.8 63.0 L372.8 64.4 M368.4 64.4 L368.4 65.9 L369.9 65.9 L369.9 67.3 L369.9 68.8 L369.9 70.2 L371.3 70.2 L371.3 71.7 M378.4 63.9 L380.8 63.9 L380.8 65.7 L378.4 65.7Z M378.6 65.9 L378.6 67.3 L378.6 68.8 L378.6 70.2 L380.0 70.2 L380.0 71.7 L378.6 71.7 L378.6 73.2 L378.6 74.6 L378.6 76.0 M381.4 67.3 L382.9 67.3 L382.9 68.8 L384.4 68.8 L384.4 70.2 L385.8 70.2 L387.2 70.2 L387.2 71.7 L388.7 71.7 L388.7 73.2 L390.2 73.2 L390.2 74.6 L390.2 76.0 L390.2 77.5 L391.6 77.5 L391.6 78.9 L391.6 80.4 L393.1 80.4 L393.1 81.8 L393.1 83.3 L394.5 83.3 L394.5 84.8 M358.0 67.5 L358.7 67.5 L358.7 69.3 L358.0 69.3Z M342.3 73.2 L343.8 73.2 L345.2 73.2 L345.2 74.6 L345.2 76.0 L345.2 77.5 L343.8 77.5 L342.3 77.5 L342.3 76.0 L342.3 74.6Z M352.0 76.5 L353.3 76.5 L353.3 77.7 L354.4 77.7 L354.4 79.1 L352.0 79.1Z M361.2 78.9 L361.2 77.5 L362.6 77.5 L364.1 77.5 L365.5 77.5 L365.5 78.9 L364.1 78.9 L362.6 78.9Z M374.8 74.7 L378.4 75.1 L378.0 78.3 L375.2 78.1Z M367.6 72.9 L368.8 72.9 L368.8 75.3 L367.6 75.3Z M409.4 46.4 L411.8 46.4 L411.8 48.0 L409.4 48.0Z M407.6 57.2 L407.6 58.6 L407.6 60.1 L406.1 60.1 L404.7 60.1 L404.7 58.6 L404.7 57.2 L404.7 55.8 L404.7 54.3 L406.1 54.3 L407.6 54.3 L407.6 55.8Z M411.8 54.3 L412.8 54.3 L412.8 56.1 L411.8 56.1Z M416.4 66.9 L416.5 69.1 M416.8 70.6 L417.0 73.5 M438.8 47.1 L439.6 47.1 L439.6 49.5 L438.8 49.5Z M400.3 73.2 L401.8 73.2 L401.8 71.7 L403.2 71.7 L404.7 71.7 L404.7 73.2 L404.7 74.6 L406.1 74.6 L407.6 74.6 L407.6 76.0 L407.6 77.5 L406.1 77.5 L404.7 77.5 L404.7 78.9 L403.2 78.9 L403.2 77.5 L403.2 76.0 L401.8 76.0 L400.3 76.0 L400.3 74.6Z M397.4 47.1 L398.9 47.1 L400.3 47.1 L401.8 47.1 L403.2 47.1 L403.2 48.5 L403.2 49.9 L401.8 49.9 L400.3 49.9 L398.9 49.9 L398.9 48.5 L397.4 48.5Z M395.9 49.9 L395.9 51.4 L395.9 52.9 L395.9 54.3 L395.9 55.8 L395.9 57.2 M361.2 78.9 L362.6 78.9 L364.1 78.9 L365.5 78.9 L366.9 78.9 L368.4 78.9 L368.4 80.4 L368.4 81.8 L368.4 83.3 L366.9 83.3 L366.9 84.8 L366.9 86.2 L365.5 86.2 L364.1 86.2 L362.6 86.2 L362.6 84.8 L362.6 83.3 L361.2 83.3 L361.2 81.8 L361.2 80.4Z M371.8 77.1 L374.2 77.1 L374.2 79.5 L372.9 79.5 L372.9 78.4 L371.8 78.4Z M377.2 77.7 L378.5 77.7 L378.5 79.3 L379.6 79.3 L379.6 81.3 L377.2 81.3Z M381.4 78.9 L382.9 78.9 L382.9 80.4 L382.9 81.8 L382.9 83.3 L381.4 83.3 L381.4 81.8 L381.4 80.4Z M385.0 81.3 L387.4 81.3 L387.4 83.0 L386.3 83.0 L386.3 84.3 L385.0 84.3Z M388.7 78.9 L390.2 78.9 L391.6 78.9 L393.1 78.9 L393.1 80.4 L391.6 80.4 L390.2 80.4 L388.7 80.4Z M385.8 86.2 L387.2 86.2 L388.7 86.2 L390.2 86.2 L391.6 86.2 L391.6 87.6 L391.6 89.1 L390.2 89.1 L388.7 89.1 L387.2 89.1 L387.2 87.6 L385.8 87.6Z M374.8 92.1 L376.0 92.1 L376.0 93.3 L374.8 93.3Z M382.9 93.4 L382.9 94.9 L384.4 94.9 L384.4 96.3 L384.4 97.8 L385.8 97.8 L385.8 99.2 L385.8 100.7 L384.4 100.7 L384.4 99.2 L384.4 97.8 L382.9 97.8 L382.9 96.3 L382.9 94.9Z M387.4 92.1 L389.2 92.1 L389.2 95.1 L387.4 95.1Z M391.6 90.5 L391.6 89.1 L393.1 89.1 L394.5 89.1 L395.9 89.1 L395.9 90.5 L395.9 92.0 L397.4 92.0 L397.4 93.4 L398.9 93.4 L398.9 94.9 L400.3 94.9 L400.3 96.3 L398.9 96.3 L398.9 97.8 L397.4 97.8 L397.4 99.2 L397.4 100.7 L397.4 102.1 L395.9 102.1 L394.5 102.1 L394.5 100.7 L393.1 100.7 L393.1 99.2 L393.1 97.8 L393.1 96.3 L391.6 96.3 L391.6 94.9 L391.6 93.4 L391.6 92.0Z M366.9 92.0 L366.9 93.4 L368.4 93.4 L369.9 93.4 L369.9 94.9 L369.9 96.3 L369.9 97.8 L368.4 97.8 L366.9 97.8 L366.9 96.3 L366.9 94.9 L366.9 93.4Z M364.6 96.9 L368.2 97.3 L368.0 99.9 L364.8 99.7Z M371.3 96.3 L372.8 96.3 L374.2 96.3 L374.2 97.8 L374.2 99.2 L374.2 100.7 L374.2 102.1 L374.2 103.6 L374.2 105.0 L374.2 106.5 L372.8 106.5 L371.3 106.5 L371.3 105.0 L371.3 103.6 L371.3 102.1 L371.3 100.7 L371.3 99.2 L371.3 97.8Z M365.5 100.7 L366.9 100.7 L368.4 100.7 L368.4 102.1 L369.9 102.1 L369.9 103.6 L369.9 105.0 L371.3 105.0 L371.3 106.5 L371.3 107.9 L371.3 109.4 L369.9 109.4 L368.4 109.4 L368.4 107.9 L366.9 107.9 L366.9 106.5 L366.9 105.0 L365.5 105.0 L365.5 103.6 L365.5 102.1Z M343.8 106.5 L343.8 105.0 L343.8 103.6 L343.8 102.1 L343.8 100.7 L343.8 99.2 L345.2 99.2 L345.2 97.8 L345.2 96.3 L345.2 94.9 L346.7 94.9 L348.1 94.9 L348.1 93.4 L349.6 93.4 L349.6 92.0 L351.0 92.0 L352.4 92.0 L352.4 90.5 L353.9 90.5 L353.9 89.1 L355.4 89.1 L356.8 89.1 L358.2 89.1 L358.2 90.5 L358.2 92.0 L359.7 92.0 L359.7 93.4 L359.7 94.9 L359.7 96.3 L358.2 96.3 L358.2 97.8 L359.7 97.8 L359.7 99.2 L361.2 99.2 L361.2 100.7 L362.6 100.7 L362.6 102.1 L364.1 102.1 L364.1 103.6 L365.5 103.6 M353.9 92.0 L353.9 93.4 L353.9 94.9 L353.9 96.3 L352.4 96.3 L352.4 97.8 L352.4 99.2 L352.4 100.7 L352.4 102.1 L351.0 102.1 L351.0 103.6 M356.8 93.4 L356.8 94.9 L356.8 96.3 L356.8 97.8 L356.8 99.2 L355.4 99.2 L355.4 100.7 L355.4 102.1 L355.4 103.6 M351.0 96.3 L351.0 97.8 L351.0 99.2 L349.6 99.2 L349.6 100.7 L349.6 102.1 M345.2 106.5 L346.7 106.5 L348.1 106.5 L349.6 106.5 L349.6 107.9 L351.0 107.9 L352.4 107.9 L352.4 106.5 L352.4 105.0 L353.9 105.0 L355.4 105.0 M356.8 103.6 L358.2 103.6 L359.7 103.6 L361.2 103.6 L362.6 103.6 L362.6 102.1 M346.0 99.6 L347.6 99.9 L347.4 101.5 L346.0 101.3Z M362.6 91.5 L364.4 91.5 L364.4 93.3 L362.6 93.3Z M347.1 87.8 L347.9 87.8 L347.9 89.6 L347.1 89.6Z M358.6 100.1 L360.4 100.3 L360.2 102.5 L358.6 102.3Z M401.8 77.5 L401.8 78.9 L401.8 80.4 L401.8 81.8 L401.8 83.3 L401.8 84.8 L401.8 86.2 L403.2 86.2 L404.7 86.2 L404.7 84.8 L404.7 83.3 L404.7 81.8 L406.1 81.8 L406.1 80.4 L406.1 78.9 L406.1 77.5 L404.7 77.5 L403.2 77.5Z M409.0 80.4 L409.0 81.8 L409.0 83.3 L409.0 84.8 L410.4 84.8 L410.4 86.2 L410.4 87.6 L410.4 89.1 L411.9 89.1 L411.9 90.5 L411.9 92.0 L411.9 93.4 L413.4 93.4 L413.4 94.9 L413.4 96.3 L413.4 97.8 L413.4 99.2 L414.8 99.2 L414.8 100.7 L414.8 102.1 L414.8 103.6 L416.2 103.6 L416.2 105.0 L416.2 106.5 M409.0 84.8 L410.4 84.8 L410.4 86.2 L410.4 87.6 L410.4 89.1 L410.4 90.5 L410.4 92.0 L410.4 93.4 L411.9 93.4 M406.4 96.9 L408.4 96.9 L408.4 100.1 L407.3 100.1 L407.3 98.7 L406.4 98.7Z M404.7 87.6 L406.1 87.6 L406.1 89.1 L406.1 90.5 L406.1 92.0 L407.6 92.0 L407.6 93.4 L406.1 93.4 L406.1 92.0 L406.1 90.5 L406.1 89.1 L404.7 89.1Z M426.2 97.5 L427.6 97.5 L427.6 99.3 L426.2 99.3Z M426.8 101.7 L428.6 101.7 L428.6 103.5 L426.8 103.5Z M431.0 102.9 L431.7 102.9 L431.7 105.3 L431.0 105.3Z M410.6 105.3 L413.0 105.3 L413.0 107.1 L410.6 107.1Z M424.9 100.7 L424.9 102.1 L424.9 103.6 L423.5 103.6 L423.5 105.0 L422.1 105.0 L420.6 105.0 L420.6 103.6 L419.1 103.6 L419.1 102.1 L419.1 100.7 L419.1 99.2 L419.1 97.8 L419.1 96.3 L420.6 96.3 L422.1 96.3 L423.5 96.3 L423.5 97.8 L424.9 97.8 L424.9 99.2Z M396.0 88.5 L399.0 88.9 L398.6 91.5 L396.4 91.1Z M395.9 93.4 L395.9 94.9 L397.4 94.9 L398.9 94.9 L400.3 94.9 L400.3 96.3 L400.3 97.8 L400.3 99.2 L400.3 100.7 L398.9 100.7 L398.9 99.2 L397.4 99.2 L397.4 97.8 L395.9 97.8 L395.9 96.3 L395.9 94.9Z M397.4 103.6 L398.9 103.6 L400.3 103.6 L400.3 105.0 L400.3 106.5 L401.8 106.5 L403.2 106.5 L403.2 107.9 L403.2 109.4 L401.8 109.4 L400.3 109.4 L398.9 109.4 L397.4 109.4 L397.4 107.9 L397.4 106.5 L397.4 105.0Z M343.8 103.6 L343.8 105.0 L345.2 105.0 L346.7 105.0 L346.7 106.5 L346.7 107.9 L346.7 109.4 L345.2 109.4 L343.8 109.4 L343.8 107.9 L343.8 106.5 L343.8 105.0Z M348.1 105.0 L349.6 105.0 L351.0 105.0 L351.0 106.5 L352.4 106.5 L352.4 107.9 L352.4 109.4 L352.4 110.8 L351.0 110.8 L349.6 110.8 L349.6 109.4 L348.1 109.4 L348.1 107.9 L348.1 106.5Z M351.0 110.8 L352.4 110.8 L352.4 112.3 L353.9 112.3 L355.4 112.3 L355.4 113.8 L355.4 115.2 L353.9 115.2 L352.4 115.2 L351.0 115.2 L351.0 113.8 L351.0 112.3Z M353.9 119.5 L355.4 119.5 L355.4 118.1 L356.8 118.1 L358.2 118.1 L358.2 119.5 L358.2 121.0 L358.2 122.4 L356.8 122.4 L355.4 122.4 L355.4 121.0 L353.9 121.0Z M347.2 116.3 L349.0 116.7 L348.8 119.3 L347.4 118.9Z M343.8 114.5 L344.6 116.1 L344.0 118.1 M348.1 125.3 L349.6 125.3 L349.6 126.8 L351.0 126.8 L351.0 128.2 L351.0 129.7 L349.6 129.7 L348.1 129.7 L348.1 128.2 L348.1 126.8Z M356.8 112.7 L358.1 112.7 L358.1 114.0 L359.2 114.0 L359.2 115.7 L356.8 115.7Z M358.2 109.4 L359.7 109.4 L359.7 107.9 L361.2 107.9 L361.2 109.4 L361.2 110.8 L361.2 112.3 L359.7 112.3 L359.7 113.8 L359.7 115.2 L361.2 115.2 L361.2 116.6 L361.2 118.1 L362.6 118.1 L362.6 119.5 L364.1 119.5 L364.1 121.0 L365.5 121.0 L366.9 121.0 L368.4 121.0 L369.9 121.0 L369.9 119.5 L371.3 119.5 L371.3 118.1 L372.8 118.1 L372.8 116.6 L374.2 116.6 L375.7 116.6 L375.7 115.2 L377.1 115.2 L378.6 115.2 L380.0 115.2 L380.0 116.6 L380.0 118.1 L378.6 118.1 L378.6 119.5 L378.6 121.0 L378.6 122.4 L380.0 122.4 L380.0 121.0 L380.0 119.5 L380.0 118.1 M369.9 125.3 L369.9 123.9 L371.3 123.9 L371.3 122.4 L372.8 122.4 L372.8 121.0 L374.2 121.0 L375.7 121.0 L377.1 121.0 L377.1 122.4 L377.1 123.9 L377.1 125.3 L375.7 125.3 L375.7 126.8 L374.2 126.8 L372.8 126.8 L372.8 128.2 L371.3 128.2 L369.9 128.2 L369.9 126.8Z M365.0 128.3 L366.5 128.3 L366.5 129.6 L367.8 129.6 L367.8 131.3 L365.0 131.3Z M365.5 107.9 L366.9 107.9 L368.4 107.9 L369.9 107.9 L371.3 107.9 L371.3 109.4 L371.3 110.8 L371.3 112.3 L371.3 113.8 L372.8 113.8 L374.2 113.8 L375.7 113.8 L375.7 112.3 L375.7 110.8 L375.7 109.4 L377.1 109.4 M373.6 104.3 L374.9 104.3 L374.9 105.9 L376.0 105.9 L376.0 107.9 L373.6 107.9Z M378.6 107.9 L380.0 107.9 L381.4 107.9 L381.4 109.4 L381.4 110.8 L380.0 110.8 L378.6 110.8 L378.6 109.4Z M383.8 115.1 L385.1 115.1 L385.1 116.4 L386.2 116.4 L386.2 118.1 L383.8 118.1Z M387.4 119.9 L389.2 119.9 L389.2 122.3 L387.4 122.3Z M391.6 119.3 L393.4 119.3 L393.4 121.7 L391.6 121.7Z M391.6 110.9 L391.4 112.0 L390.8 112.6 L390.0 112.6 L389.4 112.0 L389.2 110.9 L389.4 109.8 L390.0 109.2 L390.8 109.2 L391.4 109.8Z M394.5 112.3 L395.9 112.3 L395.9 113.8 L395.9 115.2 L394.5 115.2 L394.5 113.8Z M400.3 122.4 L398.9 122.4 L397.4 122.4 L395.9 122.4 L395.9 123.9 L394.5 123.9 L393.1 123.9 L393.1 125.3 L393.1 126.8 L393.1 128.2 L393.1 129.7 L393.1 131.1 L394.5 131.1 M394.5 103.6 L395.9 103.6 L397.4 103.6 L398.9 103.6 L398.9 105.0 L398.9 106.5 L400.3 106.5 L400.3 107.9 L398.9 107.9 L397.4 107.9 L395.9 107.9 L395.9 106.5 L395.9 105.0 L395.9 103.6Z M394.5 122.4 L395.9 122.4 L397.4 122.4 L398.9 122.4 L400.3 122.4 L400.3 121.0 L401.8 121.0 L403.2 121.0 L404.7 121.0 L406.1 121.0 L407.6 121.0 L409.0 121.0 L409.0 119.5 L409.0 118.1 L410.4 118.1 L410.4 116.6 L410.4 115.2 L410.4 113.8 L409.0 113.8 L409.0 112.3 L410.4 112.3 L411.9 112.3 L413.4 112.3 L414.8 112.3 L416.2 112.3 L417.7 112.3 L417.7 110.8 L419.1 110.8 L420.6 110.8 L420.6 112.3 L420.6 113.8 L420.6 115.2 L422.1 115.2 L422.1 113.8 L422.1 112.3 L423.5 112.3 L424.9 112.3 L426.4 112.3 L427.9 112.3 L427.9 113.8 L427.9 115.2 L429.3 115.2 L429.3 116.6 L429.3 118.1 L429.3 119.5 L427.9 119.5 L426.4 119.5 L424.9 119.5 L424.9 121.0 L424.9 122.4 L424.9 123.9 L424.9 125.3 L424.9 126.8 L424.9 128.2 L423.5 128.2 L422.1 128.2 L420.6 128.2 L420.6 126.8 L420.6 125.3 L419.1 125.3 L417.7 125.3 L417.7 123.9 L416.2 123.9 L416.2 122.4 L414.8 122.4 L414.8 121.0 L414.8 119.5 L414.8 118.1 L414.8 116.6 L414.8 115.2 M417.7 125.3 L417.7 126.8 L417.7 128.2 L417.7 129.7 L417.7 131.1 M400.3 105.0 L401.8 105.0 L401.8 103.6 L403.2 103.6 L403.2 105.0 L404.7 105.0 L404.7 106.5 L404.7 107.9 L403.2 107.9 L403.2 109.4 L401.8 109.4 L401.8 107.9 L400.3 107.9 L400.3 106.5Z M410.4 103.6 L411.9 103.6 L413.4 103.6 L414.8 103.6 L414.8 105.0 L413.4 105.0 L413.4 106.5 L413.4 107.9 L411.9 107.9 L410.4 107.9 L410.4 106.5 L410.4 105.0Z M414.8 105.0 L416.2 105.0 L416.2 106.5 L417.7 106.5 L417.7 107.9 L417.7 109.4 L419.1 109.4 L419.1 110.8 L417.7 110.8 L417.7 109.4 L416.2 109.4 L416.2 107.9 L416.2 106.5 L414.8 106.5Z M419.1 103.6 L420.6 103.6 L422.1 103.6 L423.5 103.6 L424.9 103.6 L424.9 105.0 L423.5 105.0 L423.5 106.5 L422.1 106.5 L420.6 106.5 L420.6 105.0 L419.1 105.0Z M395.9 112.3 L395.9 113.8 L395.9 115.2 L395.9 116.6 M432.2 112.3 L432.2 113.8 L432.2 115.2 L433.6 115.2 L433.6 113.8 L435.1 113.8 L435.1 115.2 L435.1 116.6 L435.1 118.1 L436.6 118.1 L436.6 119.5 L436.6 121.0 M432.2 113.8 L432.2 115.2 L432.2 116.6 L432.2 118.1 L433.6 118.1 L433.6 119.5 M433.6 125.3 L433.6 126.8 L435.1 126.8 L435.1 128.2 L436.6 128.2 L436.6 129.7 L436.6 131.1 L438.0 131.1 M433.6 126.8 L433.6 128.2 L433.6 129.7 L433.6 131.1 L435.1 131.1" fill="none" stroke="#2a2118" stroke-width="0.5" stroke-linejoin="miter"/>
<rect x="342.3" y="19.5" width="111.40" height="112.00" fill="none" stroke="#333" stroke-width="0.6"/>
</g>
<g>
<rect x="461.2" y="19.5" width="5.70" height="112.00" fill="url(#cbg)"/>
<rect x="461.2" y="19.5" width="5.70" height="112.00" fill="none" stroke="#333" stroke-width="0.6"/>
<line x1="466.9" y1="131.50" x2="469.10" y2="131.50" stroke="#222" stroke-width="0.5"/>
<text transform="translate(470.90 134.35) scale(0.95 1) rotate(0.05)" font-size="7.7" fill="#000" stroke="#000" stroke-width="0.2">130</text>
<line x1="466.9" y1="117.50" x2="469.10" y2="117.50" stroke="#222" stroke-width="0.5"/>
<text transform="translate(470.90 120.35) scale(0.95 1) rotate(0.05)" font-size="7.7" fill="#000" stroke="#000" stroke-width="0.2">140</text>
<line x1="466.9" y1="103.50" x2="469.10" y2="103.50" stroke="#222" stroke-width="0.5"/>
<text transform="translate(470.90 106.35) scale(0.95 1) rotate(0.05)" font-size="7.7" fill="#000" stroke="#000" stroke-width="0.2">150</text>
<line x1="466.9" y1="89.50" x2="469.10" y2="89.50" stroke="#222" stroke-width="0.5"/>
<text transform="translate(470.90 92.35) scale(0.95 1) rotate(0.05)" font-size="7.7" fill="#000" stroke="#000" stroke-width="0.2">160</text>
<line x1="466.9" y1="75.50" x2="469.10" y2="75.50" stroke="#222" stroke-width="0.5"/>
<text transform="translate(470.90 78.35) scale(0.95 1) rotate(0.05)" font-size="7.7" fill="#000" stroke="#000" stroke-width="0.2">170</text>
<line x1="466.9" y1="61.50" x2="469.10" y2="61.50" stroke="#222" stroke-width="0.5"/>
<text transform="translate(470.90 64.35) scale(0.95 1) rotate(0.05)" font-size="7.7" fill="#000" stroke="#000" stroke-width="0.2">180</text>
<line x1="466.9" y1="47.50" x2="469.10" y2="47.50" stroke="#222" stroke-width="0.5"/>
<text transform="translate(470.90 50.35) scale(0.95 1) rotate(0.05)" font-size="7.7" fill="#000" stroke="#000" stroke-width="0.2">190</text>
<line x1="466.9" y1="33.50" x2="469.10" y2="33.50" stroke="#222" stroke-width="0.5"/>
<text transform="translate(470.90 36.35) scale(0.95 1) rotate(0.05)" font-size="7.7" fill="#000" stroke="#000" stroke-width="0.2">200</text>
<line x1="466.9" y1="19.50" x2="469.10" y2="19.50" stroke="#222" stroke-width="0.5"/>
<text transform="translate(470.90 22.35) scale(0.95 1) rotate(0.05)" font-size="7.7" fill="#000" stroke="#000" stroke-width="0.2">210</text>
<line x1="466.90" y1="124.50" x2="467.90" y2="124.50" stroke="#222" stroke-width="0.5"/>
<line x1="466.90" y1="110.50" x2="467.90" y2="110.50" stroke="#222" stroke-width="0.5"/>
<line x1="466.90" y1="96.50" x2="467.90" y2="96.50" stroke="#222" stroke-width="0.5"/>
<line x1="466.90" y1="82.50" x2="467.90" y2="82.50" stroke="#222" stroke-width="0.5"/>
<line x1="466.90" y1="68.50" x2="467.90" y2="68.50" stroke="#222" stroke-width="0.5"/>
<line x1="466.90" y1="54.50" x2="467.90" y2="54.50" stroke="#222" stroke-width="0.5"/>
<line x1="466.90" y1="40.50" x2="467.90" y2="40.50" stroke="#222" stroke-width="0.5"/>
<line x1="466.90" y1="26.50" x2="467.90" y2="26.50" stroke="#222" stroke-width="0.5"/>
</g>
<g>
<clipPath id="cf10"><rect x="17.75" y="151.05" width="112.30" height="111.80"/></clipPath>
<g clip-path="url(#cf10)">
<rect x="17.60" y="150.35" width="23.74" height="23.82" fill="#bebebe"/>
<rect x="40.04" y="150.35" width="23.74" height="23.82" fill="#f67c4a"/>
<rect x="62.48" y="150.35" width="23.74" height="23.82" fill="#f67c4a"/>
<rect x="84.92" y="150.35" width="23.74" height="23.82" fill="#bebebe"/>
<rect x="107.36" y="150.35" width="23.74" height="23.82" fill="#fede8e"/>
<rect x="17.60" y="172.87" width="23.74" height="23.82" fill="#fdb366"/>
<rect x="40.04" y="172.87" width="23.74" height="23.82" fill="#f67c4a"/>
<rect x="62.48" y="172.87" width="23.74" height="23.82" fill="#f67c4a"/>
<rect x="84.92" y="172.87" width="23.74" height="23.82" fill="#f67c4a"/>
<rect x="107.36" y="172.87" width="23.74" height="23.82" fill="#f67c4a"/>
<rect x="17.60" y="195.39" width="23.74" height="23.82" fill="#f67c4a"/>
<rect x="40.04" y="195.39" width="23.74" height="23.82" fill="#f67c4a"/>
<rect x="62.48" y="195.39" width="23.74" height="23.82" fill="#f67c4a"/>
<rect x="84.92" y="195.39" width="23.74" height="23.82" fill="#fede8e"/>
<rect x="107.36" y="195.39" width="23.74" height="23.82" fill="#f67c4a"/>
<rect x="17.60" y="217.91" width="23.74" height="23.82" fill="#f67c4a"/>
<rect x="40.04" y="217.91" width="23.74" height="23.82" fill="#f67c4a"/>
<rect x="62.48" y="217.91" width="23.74" height="23.82" fill="#f67c4a"/>
<rect x="84.92" y="217.91" width="23.74" height="23.82" fill="#fede8e"/>
<rect x="107.36" y="217.91" width="23.74" height="23.82" fill="#f67c4a"/>
<rect x="17.60" y="240.43" width="23.74" height="23.82" fill="#f67c4a"/>
<rect x="40.04" y="240.43" width="23.74" height="23.82" fill="#f67c4a"/>
<rect x="62.48" y="240.43" width="23.74" height="23.82" fill="#f67c4a"/>
<rect x="84.92" y="240.43" width="23.74" height="23.82" fill="#fdb366"/>
<rect x="107.36" y="240.43" width="23.74" height="23.82" fill="#f7fcce"/>
</g>
<clipPath id="cp10"><rect x="17.3" y="150.6" width="112.50" height="112.00"/></clipPath>
<path clip-path="url(#cp10)" d="M52.1 168.0 L53.5 168.0 L55.0 168.0 L56.5 168.0 L57.9 168.0 L57.9 169.4 L57.9 170.9 L59.3 170.9 L59.3 172.3 L60.8 172.3 L60.8 173.8 L60.8 175.2 L62.2 175.2 L62.2 176.7 L62.2 178.1 L63.7 178.1 L63.7 179.6 L65.2 179.6 L65.2 181.0 L66.6 181.0 L68.0 181.0 L68.0 182.5 L69.5 182.5 L69.5 183.9 L69.5 185.4 L69.5 186.8 L71.0 186.8 L72.4 186.8 L72.4 188.3 L72.4 189.8 L72.4 191.2 L73.8 191.2 L73.8 192.6 L75.3 192.6 L75.3 194.1 L75.3 195.5 L75.3 197.0 L76.8 197.0 L76.8 198.4 L76.8 199.9 L78.2 199.9 L78.2 201.3 L79.7 201.3 L79.7 202.8 L79.7 204.2 L79.7 205.7 L81.1 205.7 L81.1 207.1 L81.1 208.6 L82.5 208.6 L82.5 210.0 L82.5 211.5 L82.5 212.9 L82.5 214.4 L84.0 214.4 L84.0 215.8 L84.0 217.3 L84.0 218.7 L85.4 218.7 L85.4 220.2 L85.4 221.6 L85.4 223.1 L86.9 223.1 L86.9 224.5 L86.9 226.0 L86.9 227.4 L86.9 228.9 L86.9 230.3 L88.3 230.3 L88.3 231.8 L88.3 233.2 L88.3 234.7 L88.3 236.1 L86.9 236.1 L86.9 237.6 L86.9 239.0 L85.4 239.0 L84.0 239.0 L84.0 240.5 L82.5 240.5 L81.1 240.5 L79.7 240.5 L79.7 241.9 L78.2 241.9 L78.2 243.4 L76.8 243.4 L76.8 244.8 L76.8 246.3 L75.3 246.3 L73.8 246.3 L73.8 247.7 L73.8 249.2 L72.4 249.2 L72.4 250.6 L71.0 250.6 L69.5 250.6 L69.5 252.1 L68.0 252.1 L66.6 252.1 L65.2 252.1 L65.2 253.5 L63.7 253.5 L63.7 255.0 L63.7 256.4 L63.7 257.9 L62.2 257.9 L60.8 257.9 L59.3 257.9 L59.3 256.4 L57.9 256.4 L57.9 255.0 L56.5 255.0 L56.5 253.5 L56.5 252.1 L55.0 252.1 L55.0 250.6 L55.0 249.2 L55.0 247.7 L55.0 246.3 L53.5 246.3 L53.5 244.8 L52.1 244.8 L52.1 243.4 L52.1 241.9 L52.1 240.5 L50.7 240.5 L50.7 239.0 L50.7 237.6 L50.7 236.1 L50.7 234.7 L50.7 233.2 L50.7 231.8 L50.7 230.3 L49.2 230.3 L49.2 228.9 L49.2 227.4 L49.2 226.0 L49.2 224.5 L47.8 224.5 L47.8 223.1 L47.8 221.6 L47.8 220.2 L47.8 218.7 L47.8 217.3 L46.3 217.3 L46.3 215.8 L46.3 214.4 L46.3 212.9 L46.3 211.5 L46.3 210.0 L46.3 208.6 L44.9 208.6 L44.9 207.1 L44.9 205.7 L44.9 204.2 L44.9 202.8 L44.9 201.3 L44.9 199.9 L43.4 199.9 L43.4 198.4 L43.4 197.0 L43.4 195.5 L43.4 194.1 L44.9 194.1 L44.9 192.6 L44.9 191.2 L44.9 189.8 L44.9 188.3 L44.9 186.8 L44.9 185.4 L44.9 183.9 L44.9 182.5 L44.9 181.0 L44.9 179.6 L44.9 178.1 L46.3 178.1 L46.3 176.7 L46.3 175.2 L46.3 173.8 L47.8 173.8 L47.8 172.3 L47.8 170.9 L49.2 170.9 L49.2 169.4 L50.7 169.4 L50.7 168.0Z M86.9 195.5 L88.3 195.5 L89.8 195.5 L91.2 195.5 L92.7 195.5 L94.1 195.5 L95.6 195.5 L95.6 197.0 L95.6 198.4 L95.6 199.9 L95.6 201.3 L95.6 202.8 L97.0 202.8 L98.5 202.8 L98.5 201.3 L98.5 199.9 L98.5 198.4 L99.9 198.4 L99.9 197.0 L99.9 195.5 L101.4 195.5 L101.4 194.1 L101.4 192.6 L101.4 191.2 L102.8 191.2 L104.3 191.2 L105.8 191.2 L107.2 191.2 L107.2 189.8 L108.6 189.8 L108.6 191.2 L110.1 191.2 L110.1 192.6 L110.1 194.1 L111.5 194.1 L111.5 195.5 L113.0 195.5 L113.0 197.0 L113.0 198.4 L113.0 199.9 L113.0 201.3 L113.0 202.8 L114.4 202.8 L114.4 204.2 L114.4 205.7 L114.4 207.1 L113.0 207.1 L113.0 208.6 L111.5 208.6 L110.1 208.6 L110.1 210.0 L110.1 211.5 L110.1 212.9 L110.1 214.4 L110.1 215.8 L108.6 215.8 L108.6 217.3 L108.6 218.7 L108.6 220.2 L108.6 221.6 L107.2 221.6 L105.8 221.6 L104.3 221.6 L102.8 221.6 L102.8 223.1 L102.8 224.5 L102.8 226.0 L102.8 227.4 L104.3 227.4 L104.3 228.9 L104.3 230.3 L104.3 231.8 L104.3 233.2 L104.3 234.7 L105.8 234.7 L105.8 236.1 L105.8 237.6 L105.8 239.0 L105.8 240.5 L105.8 241.9 L105.8 243.4 L104.3 243.4 L104.3 244.8 L104.3 246.3 L102.8 246.3 L101.4 246.3 L101.4 247.7 L99.9 247.7 L98.5 247.7 L97.0 247.7 L95.6 247.7 L94.1 247.7 L92.7 247.7 L92.7 246.3 L92.7 244.8 L91.2 244.8 L91.2 243.4 L91.2 241.9 L91.2 240.5 L91.2 239.0 L89.8 239.0 L89.8 237.6 L89.8 236.1 L89.8 234.7 L89.8 233.2 L89.8 231.8 L89.8 230.3 L89.8 228.9 L89.8 227.4 L89.8 226.0 L89.8 224.5 L89.8 223.1 L89.8 221.6 L89.8 220.2 L89.8 218.7 L88.3 218.7 L88.3 217.3 L88.3 215.8 L88.3 214.4 L88.3 212.9 L86.9 212.9 L86.9 211.5 L86.9 210.0 L86.9 208.6 L86.9 207.1 L85.4 207.1 L85.4 205.7 L85.4 204.2 L85.4 202.8 L85.4 201.3 L85.4 199.9 L85.4 198.4 L86.9 198.4 L86.9 197.0Z M21.6 204.2 L23.1 204.2 L23.1 205.7 L24.6 205.7 L26.0 205.7 L27.5 205.7 L28.9 205.7 L30.4 205.7 L31.8 205.7 L31.8 207.1 L33.2 207.1 L33.2 208.6 L33.2 210.0 L34.7 210.0 L34.7 211.5 L34.7 212.9 L34.7 214.4 L34.7 215.8 L34.7 217.3 L34.7 218.7 L34.7 220.2 L33.2 220.2 L33.2 221.6 L31.8 221.6 L30.4 221.6 L30.4 220.2 L28.9 220.2 L28.9 221.6 L27.5 221.6 L26.0 221.6 L24.6 221.6 L23.1 221.6 L21.6 221.6 L21.6 220.2 L20.2 220.2 L20.2 218.7 L18.8 218.7 L18.8 217.3 L18.8 215.8 L18.8 214.4 L18.8 212.9 L18.8 211.5 L18.8 210.0 L20.2 210.0 L20.2 208.6 L20.2 207.1 L20.2 205.7 L21.6 205.7Z M69.5 160.8 L69.5 159.3 L71.0 159.3 L72.4 159.3 L72.4 160.8 L73.8 160.8 L73.8 162.2 L75.3 162.2 L75.3 163.6 L75.3 165.1 L75.3 166.5 L73.8 166.5 L72.4 166.5 L71.0 166.5 L71.0 165.1 L69.5 165.1 L69.5 163.6 L69.5 162.2Z M108.3 152.7 L109.5 152.7 L109.5 154.9 L108.3 154.9Z M102.4 180.9 L103.5 180.9 L103.5 183.4 L102.4 183.4Z M105.8 181.0 L107.2 181.0 L108.6 181.0 L110.1 181.0 L111.5 181.0 L111.5 182.5 L111.5 183.9 L110.1 183.9 L108.6 183.9 L107.2 183.9 L105.8 183.9 L105.8 182.5Z M116.0 192.2 L117.4 192.2 L117.4 193.7 L116.0 193.7Z M63.3 258.4 L65.7 258.4 L65.7 260.6 L63.3 260.6Z M47.8 241.9 L49.2 241.9 L49.2 243.4 L49.2 244.8 L50.7 244.8 L50.7 246.3 L50.7 247.7 L49.2 247.7 L49.2 246.3 L49.2 244.8 L49.2 243.4 L47.8 243.4Z M34.5 253.7 L34.1 254.5 L33.3 254.9 L32.5 254.5 L32.1 253.7 L32.5 252.9 L33.3 252.5 L34.1 252.9Z M39.0 253.5 L40.5 253.5 L40.5 252.1 L42.0 252.1 L42.0 253.5 L42.0 255.0 L42.0 256.4 L43.4 256.4 L43.4 257.9 L43.4 259.4 L43.4 260.8 L43.4 262.2 L42.0 262.2 L40.5 262.2 L40.5 260.8 L40.5 259.4 L40.5 257.9 L40.5 256.4 L40.5 255.0 L39.0 255.0Z M26.0 262.2 L26.0 260.8 L27.5 260.8 L27.5 259.4 L28.9 259.4 L30.4 259.4 L31.8 259.4 L33.2 259.4 L34.7 259.4 L36.1 259.4 L37.6 259.4 L37.6 260.8 L37.6 262.2 L39.0 262.2 L40.5 262.2 M106.5 261.7 L107.7 258.4 L109.2 257.9 L109.5 259.4 L108.0 261.7Z M113.0 262.3 L116.0 262.3 M17.3 173.8 L18.8 173.8 L18.8 175.2 L18.8 176.7 L18.8 178.1 L18.8 179.6" fill="none" stroke="#2a2118" stroke-width="0.5" stroke-linejoin="miter"/>
<rect x="17.3" y="150.6" width="112.50" height="112.00" fill="none" stroke="#333" stroke-width="0.6"/>
</g>
<g>
<rect x="136.3" y="150.6" width="6.20" height="112.00" fill="url(#cbg)"/>
<rect x="136.3" y="150.6" width="6.20" height="112.00" fill="none" stroke="#333" stroke-width="0.6"/>
<line x1="142.5" y1="262.60" x2="144.70" y2="262.60" stroke="#222" stroke-width="0.5"/>
<text transform="translate(146.50 265.45) scale(0.95 1) rotate(0.05)" font-size="7.7" fill="#000" stroke="#000" stroke-width="0.2">130</text>
<line x1="142.5" y1="248.60" x2="144.70" y2="248.60" stroke="#222" stroke-width="0.5"/>
<text transform="translate(146.50 251.45) scale(0.95 1) rotate(0.05)" font-size="7.7" fill="#000" stroke="#000" stroke-width="0.2">140</text>
<line x1="142.5" y1="234.60" x2="144.70" y2="234.60" stroke="#222" stroke-width="0.5"/>
<text transform="translate(146.50 237.45) scale(0.95 1) rotate(0.05)" font-size="7.7" fill="#000" stroke="#000" stroke-width="0.2">150</text>
<line x1="142.5" y1="220.60" x2="144.70" y2="220.60" stroke="#222" stroke-width="0.5"/>
<text transform="translate(146.50 223.45) scale(0.95 1) rotate(0.05)" font-size="7.7" fill="#000" stroke="#000" stroke-width="0.2">160</text>
<line x1="142.5" y1="206.60" x2="144.70" y2="206.60" stroke="#222" stroke-width="0.5"/>
<text transform="translate(146.50 209.45) scale(0.95 1) rotate(0.05)" font-size="7.7" fill="#000" stroke="#000" stroke-width="0.2">170</text>
<line x1="142.5" y1="192.60" x2="144.70" y2="192.60" stroke="#222" stroke-width="0.5"/>
<text transform="translate(146.50 195.45) scale(0.95 1) rotate(0.05)" font-size="7.7" fill="#000" stroke="#000" stroke-width="0.2">180</text>
<line x1="142.5" y1="178.60" x2="144.70" y2="178.60" stroke="#222" stroke-width="0.5"/>
<text transform="translate(146.50 181.45) scale(0.95 1) rotate(0.05)" font-size="7.7" fill="#000" stroke="#000" stroke-width="0.2">190</text>
<line x1="142.5" y1="164.60" x2="144.70" y2="164.60" stroke="#222" stroke-width="0.5"/>
<text transform="translate(146.50 167.45) scale(0.95 1) rotate(0.05)" font-size="7.7" fill="#000" stroke="#000" stroke-width="0.2">200</text>
<line x1="142.5" y1="150.60" x2="144.70" y2="150.60" stroke="#222" stroke-width="0.5"/>
<text transform="translate(146.50 153.45) scale(0.95 1) rotate(0.05)" font-size="7.7" fill="#000" stroke="#000" stroke-width="0.2">210</text>
<line x1="142.50" y1="255.60" x2="143.50" y2="255.60" stroke="#222" stroke-width="0.5"/>
<line x1="142.50" y1="241.60" x2="143.50" y2="241.60" stroke="#222" stroke-width="0.5"/>
<line x1="142.50" y1="227.60" x2="143.50" y2="227.60" stroke="#222" stroke-width="0.5"/>
<line x1="142.50" y1="213.60" x2="143.50" y2="213.60" stroke="#222" stroke-width="0.5"/>
<line x1="142.50" y1="199.60" x2="143.50" y2="199.60" stroke="#222" stroke-width="0.5"/>
<line x1="142.50" y1="185.60" x2="143.50" y2="185.60" stroke="#222" stroke-width="0.5"/>
<line x1="142.50" y1="171.60" x2="143.50" y2="171.60" stroke="#222" stroke-width="0.5"/>
<line x1="142.50" y1="157.60" x2="143.50" y2="157.60" stroke="#222" stroke-width="0.5"/>
</g>
<g>
<clipPath id="cf11"><rect x="180.65" y="151.05" width="111.50" height="111.80"/></clipPath>
<g clip-path="url(#cf11)">
<rect x="180.40" y="150.35" width="23.62" height="23.82" fill="#d32c28"/>
<rect x="202.72" y="150.35" width="23.62" height="23.82" fill="#d32c28"/>
<rect x="225.04" y="150.35" width="23.62" height="23.82" fill="#d32c28"/>
<rect x="247.36" y="150.35" width="23.62" height="23.82" fill="#d32c28"/>
<rect x="269.68" y="150.35" width="23.62" height="23.82" fill="#d32c28"/>
<rect x="180.40" y="172.87" width="23.62" height="23.82" fill="#d32c28"/>
<rect x="202.72" y="172.87" width="23.62" height="23.82" fill="#d32c28"/>
<rect x="225.04" y="172.87" width="23.62" height="23.82" fill="#d32c28"/>
<rect x="247.36" y="172.87" width="23.62" height="23.82" fill="#d32c28"/>
<rect x="269.68" y="172.87" width="23.62" height="23.82" fill="#d32c28"/>
<rect x="180.40" y="195.39" width="23.62" height="23.82" fill="#d32c28"/>
<rect x="202.72" y="195.39" width="23.62" height="23.82" fill="#d32c28"/>
<rect x="225.04" y="195.39" width="23.62" height="23.82" fill="#d32c28"/>
<rect x="247.36" y="195.39" width="23.62" height="23.82" fill="#d32c28"/>
<rect x="269.68" y="195.39" width="23.62" height="23.82" fill="#d32c28"/>
<rect x="180.40" y="217.91" width="23.62" height="23.82" fill="#d32c28"/>
<rect x="202.72" y="217.91" width="23.62" height="23.82" fill="#d32c28"/>
<rect x="225.04" y="217.91" width="23.62" height="23.82" fill="#d32c28"/>
<rect x="247.36" y="217.91" width="23.62" height="23.82" fill="#d32c28"/>
<rect x="269.68" y="217.91" width="23.62" height="23.82" fill="#d32c28"/>
<rect x="180.40" y="240.43" width="23.62" height="23.82" fill="#d32c28"/>
<rect x="202.72" y="240.43" width="23.62" height="23.82" fill="#d32c28"/>
<rect x="225.04" y="240.43" width="23.62" height="23.82" fill="#d32c28"/>
<rect x="247.36" y="240.43" width="23.62" height="23.82" fill="#d32c28"/>
<rect x="269.68" y="240.43" width="23.62" height="23.82" fill="#d32c28"/>
</g>
<clipPath id="cp11"><rect x="180.2" y="150.6" width="111.70" height="112.00"/></clipPath>
<path clip-path="url(#cp11)" d="M210.6 150.6 L210.6 152.0 L210.6 153.5 L210.6 154.9 L212.1 154.9 L213.5 154.9 L213.5 156.4 L213.5 157.8 L213.5 159.3 L212.1 159.3 L212.1 160.8 L210.6 160.8 L210.6 162.2 L210.6 163.6 L210.6 165.1 L209.2 165.1 L209.2 166.5 L207.8 166.5 L207.8 168.0 L206.3 168.0 L206.3 169.4 L206.3 170.9 L206.3 172.3 L206.3 173.8 L206.3 175.2 L204.8 175.2 L204.8 176.7 L204.8 178.1 L204.8 179.6 L206.3 179.6 L206.3 181.0 L206.3 182.5 L204.8 182.5 L203.4 182.5 L203.4 181.0 L201.9 181.0 L200.5 181.0 L199.0 181.0 L197.6 181.0 L197.6 182.5 L199.0 182.5 L199.0 183.9 L197.6 183.9 L197.6 182.5 L196.1 182.5 L196.1 181.0 L196.1 179.6 L194.7 179.6 L193.2 179.6 L191.8 179.6 L190.3 179.6 L188.9 179.6 L187.4 179.6 L186.0 179.6 L184.5 179.6 L183.1 179.6 L183.1 181.0 L181.6 181.0 L181.6 182.5 L181.6 183.9 L181.6 185.4 L181.6 186.8 L181.6 188.3 L181.6 189.8 L181.6 191.2 L181.6 192.6 L181.6 194.1 L181.6 195.5 L181.6 197.0 L183.1 197.0 L183.1 198.4 L183.1 199.9 L183.1 201.3 L184.5 201.3 L184.5 202.8 L184.5 204.2 L186.0 204.2 L186.0 205.7 L187.4 205.7 L187.4 207.1 L188.9 207.1 L190.3 207.1 L191.8 207.1 L193.2 207.1 L193.2 205.7 L194.7 205.7 L194.7 204.2 L196.1 204.2 L197.6 204.2 L197.6 202.8 L197.6 201.3 L199.0 201.3 L199.0 199.9 L200.5 199.9 L200.5 198.4 L200.5 197.0 L200.5 195.5 L200.5 194.1 L200.5 192.6 L201.9 192.6 L201.9 191.2 L201.9 189.8 L201.9 188.3 L203.4 188.3 L204.8 188.3 L204.8 189.8 L204.8 191.2 L206.3 191.2 L206.3 192.6 L206.3 194.1 L206.3 195.5 L207.8 195.5 L207.8 197.0 L209.2 197.0 L210.6 197.0 L210.6 198.4 L212.1 198.4 L212.1 199.9 L213.5 199.9 L213.5 201.3 L215.0 201.3 L216.4 201.3 L216.4 202.8 L217.9 202.8 L219.3 202.8 L219.3 201.3 L220.8 201.3 L220.8 202.8 L222.2 202.8 L223.7 202.8 L223.7 201.3 L225.1 201.3 L226.6 201.3 L228.0 201.3 L228.0 199.9 L229.5 199.9 L230.9 199.9 L230.9 198.4 L232.4 198.4 L233.8 198.4 L235.3 198.4 L236.8 198.4 L238.2 198.4 L238.2 199.9 L239.6 199.9 L239.6 201.3 L239.6 202.8 L241.1 202.8 L241.1 204.2 L241.1 205.7 L241.1 207.1 L242.5 207.1 L242.5 208.6 L242.5 210.0 L242.5 211.5 L242.5 212.9 L242.5 214.4 L242.5 215.8 L242.5 217.3 L242.5 218.7 L242.5 220.2 L244.0 220.2 L244.0 221.6 L244.0 223.1 L244.0 224.5 L245.4 224.5 L245.4 226.0 L245.4 227.4 L245.4 228.9 L246.9 228.9 L246.9 230.3 L246.9 231.8 L248.3 231.8 L248.3 233.2 L249.8 233.2 L249.8 234.7 L249.8 236.1 L251.2 236.1 L251.2 237.6 L252.7 237.6 L252.7 239.0 L254.1 239.0 L254.1 240.5 L254.1 241.9 L255.6 241.9 L255.6 243.4 L257.0 243.4 L257.0 244.8 L258.5 244.8 L258.5 246.3 L259.9 246.3 L259.9 247.7 L261.4 247.7 L261.4 249.2 L262.8 249.2 L264.3 249.2 L265.8 249.2 L267.2 249.2 L268.6 249.2 L268.6 247.7 L268.6 246.3 L270.1 246.3 L271.5 246.3 L273.0 246.3 L273.0 244.8 L273.0 243.4 L274.4 243.4 L274.4 241.9 L274.4 240.5 L275.9 240.5 L275.9 239.0 L277.3 239.0 L277.3 237.6 L277.3 236.1 L277.3 234.7 L277.3 233.2 L277.3 231.8 L275.9 231.8 L275.9 230.3 L275.9 228.9 L275.9 227.4 L274.4 227.4 L274.4 226.0 L274.4 224.5 L274.4 223.1 L274.4 221.6 L274.4 220.2 L274.4 218.7 L274.4 217.3 L274.4 215.8 L274.4 214.4 L274.4 212.9 L275.9 212.9 L275.9 211.5 L275.9 210.0 L275.9 208.6 L275.9 207.1 L275.9 205.7 L277.3 205.7 L277.3 204.2 L277.3 202.8 L277.3 201.3 L277.3 199.9 L278.8 199.9 L278.8 198.4 L278.8 197.0 L278.8 195.5 L278.8 194.1 L278.8 192.6 L278.8 191.2 L278.8 189.8 L278.8 188.3 L278.8 186.8 L278.8 185.4 L278.8 183.9 L278.8 182.5 L278.8 181.0 L280.2 181.0 L281.7 181.0 L283.1 181.0 L284.6 181.0 L284.6 179.6 L286.0 179.6 L286.0 178.1 L284.6 178.1 L284.6 176.7 L284.6 175.2 L283.1 175.2 L281.7 175.2 L280.2 175.2 L278.8 175.2 L277.3 175.2 L277.3 176.7 L275.9 176.7 L275.9 178.1 L274.4 178.1 L274.4 176.7 L273.0 176.7 L273.0 175.2 L271.5 175.2 L271.5 173.8 L270.1 173.8 L270.1 172.3 L268.6 172.3 L268.6 170.9 L267.2 170.9 L267.2 169.4 L265.8 169.4 L265.8 168.0 L264.3 168.0 L264.3 166.5 L262.8 166.5 L261.4 166.5 L259.9 166.5 L259.9 165.1 L258.5 165.1 L258.5 163.6 L257.0 163.6 L255.6 163.6 L255.6 162.2 L254.1 162.2 L254.1 160.8 L252.7 160.8 L252.7 159.3 L251.2 159.3 L249.8 159.3 L249.8 157.8 L248.3 157.8 L246.9 157.8 L246.9 156.4 L245.4 156.4 L245.4 154.9 L244.0 154.9 L242.5 154.9 L241.1 154.9 L241.1 153.5 L239.6 153.5 L239.6 152.0 L238.2 152.0 L236.8 152.0 L235.3 152.0 L233.8 152.0 L233.8 150.6 M187.4 153.5 L188.9 153.5 L188.9 152.0 L190.3 152.0 L191.8 152.0 L193.2 152.0 L194.7 152.0 L196.1 152.0 L197.6 152.0 L199.0 152.0 L200.5 152.0 L201.9 152.0 L201.9 153.5 L203.4 153.5 L204.8 153.5 L206.3 153.5 L206.3 154.9 L206.3 156.4 L206.3 157.8 L206.3 159.3 L204.8 159.3 L204.8 160.8 L203.4 160.8 L201.9 160.8 L201.9 162.2 L200.5 162.2 L199.0 162.2 L197.6 162.2 L197.6 163.6 L196.1 163.6 L194.7 163.6 L194.7 162.2 L193.2 162.2 L191.8 162.2 L191.8 160.8 L190.3 160.8 L188.9 160.8 L188.9 159.3 L187.4 159.3 L187.4 157.8 L187.4 156.4 L187.4 154.9Z M183.1 154.9 L184.5 154.9 L184.5 156.4 L184.5 157.8 L184.5 159.3 L184.5 160.8 L186.0 160.8 L186.0 162.2 L184.5 162.2 L184.5 160.8 L184.5 159.3 L183.1 159.3 L183.1 157.8 L183.1 156.4Z M187.4 168.0 L187.4 169.4 L188.9 169.4 L188.9 170.9 L188.9 172.3 L188.9 173.8 L188.9 175.2 L188.9 176.7 L187.4 176.7 L187.4 175.2 L187.4 173.8 L187.4 172.3 L186.0 172.3 L186.0 170.9 L186.0 169.4 L186.0 168.0Z M213.5 154.9 L213.5 153.5 L215.0 153.5 L215.0 152.0 L215.0 150.6 M257.0 154.9 L258.5 154.9 L258.5 156.4 L258.5 157.8 L258.5 159.3 L257.0 159.3 L257.0 157.8 L257.0 156.4Z M262.0 159.4 L262.8 160.2 L263.5 163.2 L262.6 162.2Z M287.5 157.8 L288.9 157.8 L288.9 156.4 L290.4 156.4 L291.8 156.4 L291.8 157.8 L291.8 159.3 L291.8 160.8 L290.4 160.8 L288.9 160.8 L288.9 159.3 L287.5 159.3Z M286.0 179.6 L286.0 178.1 L286.0 176.7 L286.0 175.2 L287.5 175.2 L288.9 175.2 L288.9 173.8 L290.4 173.8 L290.4 172.3 L291.8 172.3 L291.8 173.8 L290.4 173.8 L290.4 175.2 L290.4 176.7 L288.9 176.7 L288.9 178.1 L287.5 178.1 L286.0 178.1Z M224.2 214.7 L225.4 214.7 L225.4 216.2 L224.2 216.2Z M181.6 218.7 L183.1 218.7 L184.5 218.7 L184.5 220.2 L186.0 220.2 L186.0 221.6 L184.5 221.6 L184.5 223.1 L183.1 223.1 L183.1 224.5 L183.1 226.0 L181.6 226.0 L180.2 226.0 L180.2 224.5 L181.6 224.5 L181.6 223.1 L181.6 221.6 L181.6 220.2Z M200.5 223.4 L203.5 223.4 L203.5 226.4 L200.5 226.4Z M204.8 228.9 L204.8 227.4 L204.8 226.0 L206.3 226.0 L207.8 226.0 L209.2 226.0 L210.6 226.0 L210.6 224.5 L212.1 224.5 L212.1 223.1 L213.5 223.1 L215.0 223.1 L216.4 223.1 L217.9 223.1 L217.9 224.5 L217.9 226.0 L219.3 226.0 L220.8 226.0 L222.2 226.0 L223.7 226.0 L223.7 227.4 L225.1 227.4 L226.6 227.4 L228.0 227.4 L228.0 228.9 L228.0 230.3 L229.5 230.3 L229.5 231.8 L228.0 231.8 L228.0 233.2 L228.0 234.7 L228.0 236.1 L228.0 237.6 L229.5 237.6 L229.5 239.0 L228.0 239.0 L228.0 240.5 L228.0 241.9 L228.0 243.4 L226.6 243.4 L226.6 244.8 L225.1 244.8 L225.1 246.3 L223.7 246.3 L223.7 247.7 L223.7 249.2 L223.7 250.6 L222.2 250.6 L220.8 250.6 L220.8 252.1 L219.3 252.1 L217.9 252.1 L216.4 252.1 L215.0 252.1 L215.0 250.6 L213.5 250.6 L213.5 249.2 L212.1 249.2 L212.1 247.7 L210.6 247.7 L209.2 247.7 L209.2 246.3 L207.8 246.3 L206.3 246.3 L206.3 244.8 L204.8 244.8 L204.8 243.4 L204.8 241.9 L203.4 241.9 L203.4 240.5 L201.9 240.5 L201.9 239.0 L201.9 237.6 L201.9 236.1 L201.9 234.7 L201.9 233.2 L203.4 233.2 L203.4 231.8 L204.8 231.8 L204.8 230.3Z M193.2 231.8 L194.7 231.8 L194.7 233.2 L194.7 234.7 L194.7 236.1 L193.2 236.1 L193.2 234.7 L193.2 233.2Z M181.6 241.9 L183.1 241.9 L183.1 243.4 L184.5 243.4 L186.0 243.4 L187.4 243.4 L187.4 244.8 L188.9 244.8 L188.9 246.3 L188.9 247.7 L188.9 249.2 L188.9 250.6 L187.4 250.6 L187.4 252.1 L186.0 252.1 L184.5 252.1 L184.5 250.6 L184.5 249.2 L183.1 249.2 L183.1 247.7 L183.1 246.3 L183.1 244.8 L181.6 244.8 L181.6 243.4Z M194.7 249.2 L196.1 249.2 L197.6 249.2 L199.0 249.2 L199.0 247.7 L200.5 247.7 L200.5 249.2 L201.9 249.2 L201.9 250.6 L203.4 250.6 L203.4 252.1 L203.4 253.5 L203.4 255.0 L201.9 255.0 L201.9 256.4 L201.9 257.9 L200.5 257.9 L199.0 257.9 L197.6 257.9 L196.1 257.9 L196.1 256.4 L194.7 256.4 L194.7 255.0 L194.7 253.5 L194.7 252.1 L194.7 250.6Z M246.9 253.5 L248.3 253.5 L249.8 253.5 L251.2 253.5 L252.7 253.5 L254.1 253.5 L255.6 253.5 L257.0 253.5 L258.5 253.5 L258.5 255.0 L259.9 255.0 L259.9 256.4 L259.9 257.9 L259.9 259.4 L259.9 260.8 L258.5 260.8 L257.0 260.8 L255.6 260.8 L254.1 260.8 L252.7 260.8 L251.2 260.8 L249.8 260.8 L248.3 260.8 L248.3 259.4 L246.9 259.4 L246.9 257.9 L246.9 256.4 L246.9 255.0Z M248.3 255.0 L249.8 255.0 L251.2 255.0 L252.7 255.0 L254.1 255.0 L255.6 255.0 L257.0 255.0 M281.2 234.4 L284.2 234.4 L284.5 238.4 L283.0 237.7 L281.5 235.4Z M280.2 244.8 L281.7 244.8 L281.7 243.4 L283.1 243.4 L283.1 241.9 L284.6 241.9 L286.0 241.9 L286.0 243.4 L286.0 244.8 L286.0 246.3 L284.6 246.3 L284.6 247.7 L283.1 247.7 L281.7 247.7 L280.2 247.7 L280.2 246.3Z M281.4 221.9 L281.1 222.6 L280.4 222.9 L279.7 222.6 L279.4 221.9 L279.7 221.2 L280.4 220.9 L281.1 221.2Z M284.2 260.5 L284.2 262.8" fill="none" stroke="#2a2118" stroke-width="0.5" stroke-linejoin="miter"/>
<rect x="180.2" y="150.6" width="111.70" height="112.00" fill="none" stroke="#333" stroke-width="0.6"/>
</g>
<g>
<rect x="298.8" y="150.6" width="6.00" height="112.00" fill="url(#cbg)"/>
<rect x="298.8" y="150.6" width="6.00" height="112.00" fill="none" stroke="#333" stroke-width="0.6"/>
<line x1="304.8" y1="262.60" x2="307.00" y2="262.60" stroke="#222" stroke-width="0.5"/>
<text transform="translate(308.80 265.45) scale(0.95 1) rotate(0.05)" font-size="7.7" fill="#000" stroke="#000" stroke-width="0.2">130</text>
<line x1="304.8" y1="248.60" x2="307.00" y2="248.60" stroke="#222" stroke-width="0.5"/>
<text transform="translate(308.80 251.45) scale(0.95 1) rotate(0.05)" font-size="7.7" fill="#000" stroke="#000" stroke-width="0.2">140</text>
<line x1="304.8" y1="234.60" x2="307.00" y2="234.60" stroke="#222" stroke-width="0.5"/>
<text transform="translate(308.80 237.45) scale(0.95 1) rotate(0.05)" font-size="7.7" fill="#000" stroke="#000" stroke-width="0.2">150</text>
<line x1="304.8" y1="220.60" x2="307.00" y2="220.60" stroke="#222" stroke-width="0.5"/>
<text transform="translate(308.80 223.45) scale(0.95 1) rotate(0.05)" font-size="7.7" fill="#000" stroke="#000" stroke-width="0.2">160</text>
<line x1="304.8" y1="206.60" x2="307.00" y2="206.60" stroke="#222" stroke-width="0.5"/>
<text transform="translate(308.80 209.45) scale(0.95 1) rotate(0.05)" font-size="7.7" fill="#000" stroke="#000" stroke-width="0.2">170</text>
<line x1="304.8" y1="192.60" x2="307.00" y2="192.60" stroke="#222" stroke-width="0.5"/>
<text transform="translate(308.80 195.45) scale(0.95 1) rotate(0.05)" font-size="7.7" fill="#000" stroke="#000" stroke-width="0.2">180</text>
<line x1="304.8" y1="178.60" x2="307.00" y2="178.60" stroke="#222" stroke-width="0.5"/>
<text transform="translate(308.80 181.45) scale(0.95 1) rotate(0.05)" font-size="7.7" fill="#000" stroke="#000" stroke-width="0.2">190</text>
<line x1="304.8" y1="164.60" x2="307.00" y2="164.60" stroke="#222" stroke-width="0.5"/>
<text transform="translate(308.80 167.45) scale(0.95 1) rotate(0.05)" font-size="7.7" fill="#000" stroke="#000" stroke-width="0.2">200</text>
<line x1="304.8" y1="150.60" x2="307.00" y2="150.60" stroke="#222" stroke-width="0.5"/>
<text transform="translate(308.80 153.45) scale(0.95 1) rotate(0.05)" font-size="7.7" fill="#000" stroke="#000" stroke-width="0.2">210</text>
<line x1="304.80" y1="255.60" x2="305.80" y2="255.60" stroke="#222" stroke-width="0.5"/>
<line x1="304.80" y1="241.60" x2="305.80" y2="241.60" stroke="#222" stroke-width="0.5"/>
<line x1="304.80" y1="227.60" x2="305.80" y2="227.60" stroke="#222" stroke-width="0.5"/>
<line x1="304.80" y1="213.60" x2="305.80" y2="213.60" stroke="#222" stroke-width="0.5"/>
<line x1="304.80" y1="199.60" x2="305.80" y2="199.60" stroke="#222" stroke-width="0.5"/>
<line x1="304.80" y1="185.60" x2="305.80" y2="185.60" stroke="#222" stroke-width="0.5"/>
<line x1="304.80" y1="171.60" x2="305.80" y2="171.60" stroke="#222" stroke-width="0.5"/>
<line x1="304.80" y1="157.60" x2="305.80" y2="157.60" stroke="#222" stroke-width="0.5"/>
</g>
<g>
<clipPath id="cf12"><rect x="342.75" y="151.05" width="111.20" height="111.80"/></clipPath>
<g clip-path="url(#cf12)">
<rect x="342.40" y="150.35" width="23.53" height="23.82" fill="#e14430"/>
<rect x="364.63" y="150.35" width="23.53" height="23.82" fill="#e14430"/>
<rect x="386.86" y="150.35" width="23.53" height="23.82" fill="#e14430"/>
<rect x="409.09" y="150.35" width="23.53" height="23.82" fill="#e14430"/>
<rect x="431.32" y="150.35" width="23.53" height="23.82" fill="#e14430"/>
<rect x="342.40" y="172.87" width="23.53" height="23.82" fill="#e14430"/>
<rect x="364.63" y="172.87" width="23.53" height="23.82" fill="#e14430"/>
<rect x="386.86" y="172.87" width="23.53" height="23.82" fill="#e14430"/>
<rect x="409.09" y="172.87" width="23.53" height="23.82" fill="#e14430"/>
<rect x="431.32" y="172.87" width="23.53" height="23.82" fill="#e14430"/>
<rect x="342.40" y="195.39" width="23.53" height="23.82" fill="#e14430"/>
<rect x="364.63" y="195.39" width="23.53" height="23.82" fill="#e14430"/>
<rect x="386.86" y="195.39" width="23.53" height="23.82" fill="#e14430"/>
<rect x="409.09" y="195.39" width="23.53" height="23.82" fill="#e14430"/>
<rect x="431.32" y="195.39" width="23.53" height="23.82" fill="#e14430"/>
<rect x="342.40" y="217.91" width="23.53" height="23.82" fill="#e14430"/>
<rect x="364.63" y="217.91" width="23.53" height="23.82" fill="#e14430"/>
<rect x="386.86" y="217.91" width="23.53" height="23.82" fill="#e14430"/>
<rect x="409.09" y="217.91" width="23.53" height="23.82" fill="#e14430"/>
<rect x="431.32" y="217.91" width="23.53" height="23.82" fill="#e14430"/>
<rect x="342.40" y="240.43" width="23.53" height="23.82" fill="#e14430"/>
<rect x="364.63" y="240.43" width="23.53" height="23.82" fill="#e14430"/>
<rect x="386.86" y="240.43" width="23.53" height="23.82" fill="#e14430"/>
<rect x="409.09" y="240.43" width="23.53" height="23.82" fill="#e14430"/>
<rect x="431.32" y="240.43" width="23.53" height="23.82" fill="#e14430"/>
</g>
<clipPath id="cp12"><rect x="342.3" y="150.6" width="111.40" height="112.00"/></clipPath>
<path clip-path="url(#cp12)" d="M377.1 150.6 L377.1 152.0 L375.7 152.0 L375.7 153.5 L374.2 153.5 L374.2 154.9 L372.8 154.9 L371.3 154.9 L369.9 154.9 L369.9 156.4 L368.4 156.4 L366.9 156.4 L366.9 157.8 L366.9 159.3 L365.5 159.3 L365.5 160.8 L364.1 160.8 L364.1 162.2 L365.5 162.2 L365.5 163.6 L365.5 165.1 L365.5 166.5 L366.9 166.5 L368.4 166.5 L368.4 168.0 L368.4 169.4 L368.4 170.9 L368.4 172.3 L366.9 172.3 L366.9 173.8 L366.9 175.2 L368.4 175.2 L368.4 176.7 L368.4 178.1 L368.4 179.6 L368.4 181.0 L368.4 182.5 L368.4 183.9 L369.9 183.9 L369.9 185.4 L371.3 185.4 L372.8 185.4 L374.2 185.4 L374.2 186.8 L375.7 186.8 L375.7 188.3 L377.1 188.3 L378.6 188.3 L380.0 188.3 L380.0 189.8 L381.4 189.8 L382.9 189.8 L382.9 191.2 L384.4 191.2 L385.8 191.2 L385.8 192.6 L387.2 192.6 L387.2 194.1 L388.7 194.1 L388.7 195.5 L390.2 195.5 L390.2 194.1 L391.6 194.1 L391.6 192.6 L393.1 192.6 L393.1 191.2 L394.5 191.2 L394.5 189.8 L394.5 188.3 L394.5 186.8 L395.9 186.8 L395.9 185.4 L395.9 183.9 L395.9 182.5 L395.9 181.0 L395.9 179.6 L395.9 178.1 L395.9 176.7 L395.9 175.2 L394.5 175.2 L394.5 173.8 L394.5 172.3 L394.5 170.9 L394.5 169.4 L394.5 168.0 L393.1 168.0 L393.1 166.5 L393.1 165.1 L391.6 165.1 L391.6 163.6 L391.6 162.2 L391.6 160.8 L391.6 159.3 L390.2 159.3 L390.2 157.8 L390.2 156.4 L390.2 154.9 L388.7 154.9 L388.7 153.5 L388.7 152.0 L387.2 152.0 L387.2 150.6 M423.5 150.6 L422.1 150.6 L422.1 152.0 L420.6 152.0 L420.6 153.5 L419.1 153.5 L419.1 154.9 L417.7 154.9 L416.2 154.9 L416.2 156.4 L416.2 157.8 L414.8 157.8 L414.8 159.3 L414.8 160.8 L413.4 160.8 L413.4 162.2 L413.4 163.6 L411.9 163.6 L411.9 165.1 L411.9 166.5 L411.9 168.0 L410.4 168.0 L410.4 169.4 L410.4 170.9 L410.4 172.3 L410.4 173.8 L409.0 173.8 L409.0 175.2 L409.0 176.7 L410.4 176.7 L410.4 178.1 L411.9 178.1 L411.9 179.6 L411.9 181.0 L413.4 181.0 L413.4 182.5 L413.4 183.9 L414.8 183.9 L414.8 185.4 L414.8 186.8 L416.2 186.8 L416.2 188.3 L416.2 189.8 L417.7 189.8 L417.7 191.2 L417.7 192.6 L417.7 194.1 L419.1 194.1 L419.1 195.5 L419.1 197.0 L419.1 198.4 L420.6 198.4 L420.6 199.9 L420.6 201.3 L420.6 202.8 L420.6 204.2 L422.1 204.2 L422.1 205.7 L422.1 207.1 L422.1 208.6 L423.5 208.6 L423.5 210.0 L423.5 211.5 L424.9 211.5 L424.9 212.9 L424.9 214.4 L426.4 214.4 L426.4 215.8 L426.4 217.3 L427.9 217.3 L427.9 218.7 L427.9 220.2 L429.3 220.2 L429.3 221.6 L429.3 223.1 L430.8 223.1 L430.8 224.5 L432.2 224.5 L432.2 226.0 L433.6 226.0 L435.1 226.0 L436.6 226.0 L436.6 227.4 L436.6 228.9 L436.6 230.3 L438.0 230.3 L438.0 231.8 L438.0 233.2 L439.4 233.2 L439.4 234.7 L440.9 234.7 L442.4 234.7 L442.4 236.1 L443.8 236.1 L443.8 237.6 L445.2 237.6 L446.7 237.6 L448.1 237.6 L448.1 236.1 L448.1 234.7 L449.6 234.7 L449.6 233.2 L451.1 233.2 L452.5 233.2 L453.9 233.2 M426.4 150.6 L427.9 150.6 L427.9 152.0 L429.3 152.0 L430.8 152.0 L430.8 153.5 L432.2 153.5 L432.2 154.9 L433.6 154.9 L433.6 156.4 L433.6 157.8 L435.1 157.8 L435.1 159.3 L436.6 159.3 L436.6 160.8 L436.6 162.2 L438.0 162.2 L438.0 163.6 L439.4 163.6 L439.4 165.1 L440.9 165.1 L440.9 166.5 L440.9 168.0 L442.4 168.0 L442.4 169.4 L443.8 169.4 L443.8 170.9 L445.2 170.9 L445.2 172.3 L445.2 173.8 L445.2 175.2 L445.2 176.7 L445.2 178.1 L446.7 178.1 L446.7 179.6 L446.7 181.0 L448.1 181.0 L448.1 182.5 L448.1 183.9 L449.6 183.9 L449.6 185.4 L449.6 186.8 L449.6 188.3 L449.6 189.8 L451.1 189.8 L451.1 191.2 L451.1 192.6 L452.5 192.6 L452.5 194.1 L452.5 195.5 L452.5 197.0 L452.5 198.4 L453.9 198.4 L453.9 199.9 L453.9 201.3 M446.7 170.9 L446.7 169.4 L448.1 169.4 L448.1 170.9 L449.6 170.9 L449.6 172.3 L449.6 173.8 L451.1 173.8 L451.1 175.2 L452.5 175.2 L452.5 176.7 L453.9 176.7 L453.9 178.1 M342.3 188.3 L343.8 188.3 L343.8 189.8 L345.2 189.8 L345.2 191.2 L345.2 192.6 L345.2 194.1 L346.7 194.1 L348.1 194.1 L349.6 194.1 L351.0 194.1 L351.0 192.6 L352.4 192.6 L353.9 192.6 L355.4 192.6 L356.8 192.6 L356.8 194.1 L358.2 194.1 L358.2 195.5 L359.7 195.5 L359.7 194.1 L361.2 194.1 L362.6 194.1 L364.1 194.1 L364.1 192.6 L364.1 191.2 L364.1 189.8 L364.1 188.3 L362.6 188.3 L361.2 188.3 L359.7 188.3 L359.7 186.8 L359.7 185.4 L359.7 183.9 L358.2 183.9 L358.2 182.5 L358.2 181.0 L356.8 181.0 L356.8 179.6 L355.4 179.6 L355.4 178.1 M349.6 175.2 L351.0 175.2 L352.4 175.2 L353.9 175.2 L355.4 175.2 L355.4 176.7 L355.4 178.1 L353.9 178.1 L352.4 178.1 L351.0 178.1 L351.0 176.7 L351.0 175.2Z M349.6 181.0 L351.0 181.0 L351.0 179.6 L352.4 179.6 L352.4 181.0 L353.9 181.0 L353.9 182.5 M342.3 152.0 L343.8 152.0 L343.8 153.5 L345.2 153.5 L345.2 154.9 L345.2 156.4 L346.7 156.4 L346.7 157.8 L346.7 159.3 L348.1 159.3 L348.1 160.8 L348.1 162.2 L349.6 162.2 L349.6 163.6 L349.6 165.1 L349.6 166.5 L351.0 166.5 L351.0 165.1 L351.0 163.6 L351.0 162.2 L352.4 162.2 L352.4 160.8 L352.4 159.3 L352.4 157.8 L351.0 157.8 L351.0 156.4 L352.4 156.4 L352.4 154.9 L353.9 154.9 L353.9 153.5 L353.9 152.0 L353.9 150.6 M342.3 163.6 L343.8 163.6 L345.2 163.6 L346.7 163.6 L348.1 163.6 M342.3 152.0 L343.8 152.0 L345.2 152.0 L346.7 152.0 L346.7 153.5 L348.1 153.5 L348.1 152.0 L349.6 152.0 L351.0 152.0 L352.4 152.0 M356.8 159.3 L356.8 160.8 L356.8 162.2 L356.8 163.6 L356.8 165.1 L356.8 166.5 L356.8 168.0 L356.8 169.4 L356.8 170.9 L358.2 170.9 L358.2 172.3 L358.2 173.8 M358.7 175.0 L358.4 175.6 L357.8 175.9 L357.2 175.6 L356.9 175.0 L357.2 174.4 L357.8 174.1 L358.4 174.4Z M356.2 158.8 L357.4 158.8 L357.4 160.8 L356.2 160.8Z M359.2 158.8 L361.6 158.8 L361.6 161.2 L360.0 162.0 L359.2 161.2Z M354.4 160.2 L355.4 160.2 L355.4 162.6 L354.4 162.6Z M352.6 155.4 L355.6 155.6 L355.4 157.2 L353.0 157.2Z M363.4 170.1 L363.2 170.6 L362.6 171.0 L361.8 171.0 L361.2 170.6 L361.0 170.1 L361.2 169.6 L361.8 169.2 L362.6 169.2 L363.2 169.6Z M362.8 172.6 L362.5 173.2 L361.8 173.6 L360.8 173.6 L360.1 173.2 L359.8 172.6 L360.1 172.0 L360.8 171.6 L361.8 171.6 L362.5 172.0Z M363.3 176.8 L363.0 177.6 L362.2 177.9 L361.4 177.6 L361.1 176.8 L361.4 176.0 L362.2 175.7 L363.0 176.0Z M394.8 153.6 L395.8 153.6 L395.8 156.0 L394.8 156.0Z M395.2 157.8 L396.2 157.8 L396.2 161.4 L395.2 161.4Z M394.6 165.0 L398.8 165.0 L398.8 166.8 L394.6 166.8Z M395.9 169.4 L395.9 170.9 L395.9 172.3 L395.9 173.8 L397.4 173.8 L397.4 175.2 L397.4 176.7 M401.3 155.2 L402.3 155.2 L402.3 156.8 L401.3 156.8Z M403.4 155.2 L404.4 155.2 L404.4 156.8 L403.4 156.8Z M405.6 155.2 L406.6 155.2 L406.6 156.8 L405.6 156.8Z M407.8 155.2 L408.8 155.2 L408.8 156.8 L407.8 156.8Z M412.8 152.4 L413.6 152.4 L413.6 154.2 L412.8 154.2Z M441.2 152.4 L443.6 152.6 L443.2 153.8 L441.6 153.6Z M451.1 157.8 L452.5 157.8 L452.5 159.3 L452.5 160.8 L452.5 162.2 L452.5 163.6 M397.2 167.3 L397.2 175.5 L398.8 178.7 L402.5 178.7 L404.1 175.5 L404.5 168.1 M400.0 166.5 L400.4 173.8 L402.5 174.2 L402.5 167.3 M395.6 168.1 L395.6 177.9 L397.2 180.3 M405.3 169.8 L406.1 175.5 L405.3 177.7 M409.0 169.8 L409.4 175.5 L409.8 178.7 M406.5 164.1 L408.6 164.4 L407.6 167.7 L406.8 166.7Z M364.1 191.2 L365.5 191.2 L365.5 192.6 L366.9 192.6 L366.9 194.1 L368.4 194.1 L368.4 192.6 L369.9 192.6 L369.9 194.1 L371.3 194.1 L371.3 192.6 L372.8 192.6 L372.8 194.1 L372.8 195.5 M368.4 195.5 L368.4 197.0 L369.9 197.0 L369.9 198.4 L369.9 199.9 L369.9 201.3 L371.3 201.3 L371.3 202.8 M378.4 195.0 L380.8 195.0 L380.8 196.8 L378.4 196.8Z M378.6 197.0 L378.6 198.4 L378.6 199.9 L378.6 201.3 L380.0 201.3 L380.0 202.8 L378.6 202.8 L378.6 204.2 L378.6 205.7 L378.6 207.1 M381.4 198.4 L382.9 198.4 L382.9 199.9 L384.4 199.9 L384.4 201.3 L385.8 201.3 L387.2 201.3 L387.2 202.8 L388.7 202.8 L388.7 204.2 L390.2 204.2 L390.2 205.7 L390.2 207.1 L390.2 208.6 L391.6 208.6 L391.6 210.0 L391.6 211.5 L393.1 211.5 L393.1 212.9 L393.1 214.4 L394.5 214.4 L394.5 215.8 M358.0 198.6 L358.7 198.6 L358.7 200.4 L358.0 200.4Z M342.3 204.2 L343.8 204.2 L345.2 204.2 L345.2 205.7 L345.2 207.1 L345.2 208.6 L343.8 208.6 L342.3 208.6 L342.3 207.1 L342.3 205.7Z M352.0 207.6 L353.3 207.6 L353.3 208.8 L354.4 208.8 L354.4 210.2 L352.0 210.2Z M361.2 210.0 L361.2 208.6 L362.6 208.6 L364.1 208.6 L365.5 208.6 L365.5 210.0 L364.1 210.0 L362.6 210.0Z M374.8 205.8 L378.4 206.2 L378.0 209.4 L375.2 209.2Z M367.6 204.0 L368.8 204.0 L368.8 206.4 L367.6 206.4Z M409.4 177.5 L411.8 177.5 L411.8 179.1 L409.4 179.1Z M407.6 188.3 L407.6 189.8 L407.6 191.2 L406.1 191.2 L404.7 191.2 L404.7 189.8 L404.7 188.3 L404.7 186.8 L404.7 185.4 L406.1 185.4 L407.6 185.4 L407.6 186.8Z M411.8 185.4 L412.8 185.4 L412.8 187.2 L411.8 187.2Z M416.4 198.0 L416.5 200.2 M416.8 201.7 L417.0 204.6 M438.8 178.2 L439.6 178.2 L439.6 180.6 L438.8 180.6Z M400.3 204.2 L401.8 204.2 L401.8 202.8 L403.2 202.8 L404.7 202.8 L404.7 204.2 L404.7 205.7 L406.1 205.7 L407.6 205.7 L407.6 207.1 L407.6 208.6 L406.1 208.6 L404.7 208.6 L404.7 210.0 L403.2 210.0 L403.2 208.6 L403.2 207.1 L401.8 207.1 L400.3 207.1 L400.3 205.7Z M397.4 178.1 L398.9 178.1 L400.3 178.1 L401.8 178.1 L403.2 178.1 L403.2 179.6 L403.2 181.0 L401.8 181.0 L400.3 181.0 L398.9 181.0 L398.9 179.6 L397.4 179.6Z M395.9 181.0 L395.9 182.5 L395.9 183.9 L395.9 185.4 L395.9 186.8 L395.9 188.3 M361.2 210.0 L362.6 210.0 L364.1 210.0 L365.5 210.0 L366.9 210.0 L368.4 210.0 L368.4 211.5 L368.4 212.9 L368.4 214.4 L366.9 214.4 L366.9 215.8 L366.9 217.3 L365.5 217.3 L364.1 217.3 L362.6 217.3 L362.6 215.8 L362.6 214.4 L361.2 214.4 L361.2 212.9 L361.2 211.5Z M371.8 208.2 L374.2 208.2 L374.2 210.6 L372.9 210.6 L372.9 209.5 L371.8 209.5Z M377.2 208.8 L378.5 208.8 L378.5 210.4 L379.6 210.4 L379.6 212.4 L377.2 212.4Z M381.4 210.0 L382.9 210.0 L382.9 211.5 L382.9 212.9 L382.9 214.4 L381.4 214.4 L381.4 212.9 L381.4 211.5Z M385.0 212.4 L387.4 212.4 L387.4 214.1 L386.3 214.1 L386.3 215.4 L385.0 215.4Z M388.7 210.0 L390.2 210.0 L391.6 210.0 L393.1 210.0 L393.1 211.5 L391.6 211.5 L390.2 211.5 L388.7 211.5Z M385.8 217.3 L387.2 217.3 L388.7 217.3 L390.2 217.3 L391.6 217.3 L391.6 218.7 L391.6 220.2 L390.2 220.2 L388.7 220.2 L387.2 220.2 L387.2 218.7 L385.8 218.7Z M374.8 223.2 L376.0 223.2 L376.0 224.4 L374.8 224.4Z M382.9 224.5 L382.9 226.0 L384.4 226.0 L384.4 227.4 L384.4 228.9 L385.8 228.9 L385.8 230.3 L385.8 231.8 L384.4 231.8 L384.4 230.3 L384.4 228.9 L382.9 228.9 L382.9 227.4 L382.9 226.0Z M387.4 223.2 L389.2 223.2 L389.2 226.2 L387.4 226.2Z M391.6 221.6 L391.6 220.2 L393.1 220.2 L394.5 220.2 L395.9 220.2 L395.9 221.6 L395.9 223.1 L397.4 223.1 L397.4 224.5 L398.9 224.5 L398.9 226.0 L400.3 226.0 L400.3 227.4 L398.9 227.4 L398.9 228.9 L397.4 228.9 L397.4 230.3 L397.4 231.8 L397.4 233.2 L395.9 233.2 L394.5 233.2 L394.5 231.8 L393.1 231.8 L393.1 230.3 L393.1 228.9 L393.1 227.4 L391.6 227.4 L391.6 226.0 L391.6 224.5 L391.6 223.1Z M366.9 223.1 L366.9 224.5 L368.4 224.5 L369.9 224.5 L369.9 226.0 L369.9 227.4 L369.9 228.9 L368.4 228.9 L366.9 228.9 L366.9 227.4 L366.9 226.0 L366.9 224.5Z M364.6 228.0 L368.2 228.4 L368.0 231.0 L364.8 230.8Z M371.3 227.4 L372.8 227.4 L374.2 227.4 L374.2 228.9 L374.2 230.3 L374.2 231.8 L374.2 233.2 L374.2 234.7 L374.2 236.1 L374.2 237.6 L372.8 237.6 L371.3 237.6 L371.3 236.1 L371.3 234.7 L371.3 233.2 L371.3 231.8 L371.3 230.3 L371.3 228.9Z M365.5 231.8 L366.9 231.8 L368.4 231.8 L368.4 233.2 L369.9 233.2 L369.9 234.7 L369.9 236.1 L371.3 236.1 L371.3 237.6 L371.3 239.0 L371.3 240.5 L369.9 240.5 L368.4 240.5 L368.4 239.0 L366.9 239.0 L366.9 237.6 L366.9 236.1 L365.5 236.1 L365.5 234.7 L365.5 233.2Z M343.8 237.6 L343.8 236.1 L343.8 234.7 L343.8 233.2 L343.8 231.8 L343.8 230.3 L345.2 230.3 L345.2 228.9 L345.2 227.4 L345.2 226.0 L346.7 226.0 L348.1 226.0 L348.1 224.5 L349.6 224.5 L349.6 223.1 L351.0 223.1 L352.4 223.1 L352.4 221.6 L353.9 221.6 L353.9 220.2 L355.4 220.2 L356.8 220.2 L358.2 220.2 L358.2 221.6 L358.2 223.1 L359.7 223.1 L359.7 224.5 L359.7 226.0 L359.7 227.4 L358.2 227.4 L358.2 228.9 L359.7 228.9 L359.7 230.3 L361.2 230.3 L361.2 231.8 L362.6 231.8 L362.6 233.2 L364.1 233.2 L364.1 234.7 L365.5 234.7 M353.9 223.1 L353.9 224.5 L353.9 226.0 L353.9 227.4 L352.4 227.4 L352.4 228.9 L352.4 230.3 L352.4 231.8 L352.4 233.2 L351.0 233.2 L351.0 234.7 M356.8 224.5 L356.8 226.0 L356.8 227.4 L356.8 228.9 L356.8 230.3 L355.4 230.3 L355.4 231.8 L355.4 233.2 L355.4 234.7 M351.0 227.4 L351.0 228.9 L351.0 230.3 L349.6 230.3 L349.6 231.8 L349.6 233.2 M345.2 237.6 L346.7 237.6 L348.1 237.6 L349.6 237.6 L349.6 239.0 L351.0 239.0 L352.4 239.0 L352.4 237.6 L352.4 236.1 L353.9 236.1 L355.4 236.1 M356.8 234.7 L358.2 234.7 L359.7 234.7 L361.2 234.7 L362.6 234.7 L362.6 233.2 M346.0 230.7 L347.6 231.0 L347.4 232.6 L346.0 232.4Z M362.6 222.6 L364.4 222.6 L364.4 224.4 L362.6 224.4Z M347.1 218.9 L347.9 218.9 L347.9 220.7 L347.1 220.7Z M358.6 231.2 L360.4 231.4 L360.2 233.6 L358.6 233.4Z M401.8 208.6 L401.8 210.0 L401.8 211.5 L401.8 212.9 L401.8 214.4 L401.8 215.8 L401.8 217.3 L403.2 217.3 L404.7 217.3 L404.7 215.8 L404.7 214.4 L404.7 212.9 L406.1 212.9 L406.1 211.5 L406.1 210.0 L406.1 208.6 L404.7 208.6 L403.2 208.6Z M409.0 211.5 L409.0 212.9 L409.0 214.4 L409.0 215.8 L410.4 215.8 L410.4 217.3 L410.4 218.7 L410.4 220.2 L411.9 220.2 L411.9 221.6 L411.9 223.1 L411.9 224.5 L413.4 224.5 L413.4 226.0 L413.4 227.4 L413.4 228.9 L413.4 230.3 L414.8 230.3 L414.8 231.8 L414.8 233.2 L414.8 234.7 L416.2 234.7 L416.2 236.1 L416.2 237.6 M409.0 215.8 L410.4 215.8 L410.4 217.3 L410.4 218.7 L410.4 220.2 L410.4 221.6 L410.4 223.1 L410.4 224.5 L411.9 224.5 M406.4 228.0 L408.4 228.0 L408.4 231.2 L407.3 231.2 L407.3 229.8 L406.4 229.8Z M404.7 218.7 L406.1 218.7 L406.1 220.2 L406.1 221.6 L406.1 223.1 L407.6 223.1 L407.6 224.5 L406.1 224.5 L406.1 223.1 L406.1 221.6 L406.1 220.2 L404.7 220.2Z M426.2 228.6 L427.6 228.6 L427.6 230.4 L426.2 230.4Z M426.8 232.8 L428.6 232.8 L428.6 234.6 L426.8 234.6Z M431.0 234.0 L431.7 234.0 L431.7 236.4 L431.0 236.4Z M410.6 236.4 L413.0 236.4 L413.0 238.2 L410.6 238.2Z M424.9 231.8 L424.9 233.2 L424.9 234.7 L423.5 234.7 L423.5 236.1 L422.1 236.1 L420.6 236.1 L420.6 234.7 L419.1 234.7 L419.1 233.2 L419.1 231.8 L419.1 230.3 L419.1 228.9 L419.1 227.4 L420.6 227.4 L422.1 227.4 L423.5 227.4 L423.5 228.9 L424.9 228.9 L424.9 230.3Z M396.0 219.6 L399.0 220.0 L398.6 222.6 L396.4 222.2Z M395.9 224.5 L395.9 226.0 L397.4 226.0 L398.9 226.0 L400.3 226.0 L400.3 227.4 L400.3 228.9 L400.3 230.3 L400.3 231.8 L398.9 231.8 L398.9 230.3 L397.4 230.3 L397.4 228.9 L395.9 228.9 L395.9 227.4 L395.9 226.0Z M397.4 234.7 L398.9 234.7 L400.3 234.7 L400.3 236.1 L400.3 237.6 L401.8 237.6 L403.2 237.6 L403.2 239.0 L403.2 240.5 L401.8 240.5 L400.3 240.5 L398.9 240.5 L397.4 240.5 L397.4 239.0 L397.4 237.6 L397.4 236.1Z M343.8 234.7 L343.8 236.1 L345.2 236.1 L346.7 236.1 L346.7 237.6 L346.7 239.0 L346.7 240.5 L345.2 240.5 L343.8 240.5 L343.8 239.0 L343.8 237.6 L343.8 236.1Z M348.1 236.1 L349.6 236.1 L351.0 236.1 L351.0 237.6 L352.4 237.6 L352.4 239.0 L352.4 240.5 L352.4 241.9 L351.0 241.9 L349.6 241.9 L349.6 240.5 L348.1 240.5 L348.1 239.0 L348.1 237.6Z M351.0 241.9 L352.4 241.9 L352.4 243.4 L353.9 243.4 L355.4 243.4 L355.4 244.8 L355.4 246.3 L353.9 246.3 L352.4 246.3 L351.0 246.3 L351.0 244.8 L351.0 243.4Z M353.9 250.6 L355.4 250.6 L355.4 249.2 L356.8 249.2 L358.2 249.2 L358.2 250.6 L358.2 252.1 L358.2 253.5 L356.8 253.5 L355.4 253.5 L355.4 252.1 L353.9 252.1Z M347.2 247.4 L349.0 247.8 L348.8 250.4 L347.4 250.0Z M343.8 245.6 L344.6 247.2 L344.0 249.2 M348.1 256.4 L349.6 256.4 L349.6 257.9 L351.0 257.9 L351.0 259.4 L351.0 260.8 L349.6 260.8 L348.1 260.8 L348.1 259.4 L348.1 257.9Z M356.8 243.8 L358.1 243.8 L358.1 245.1 L359.2 245.1 L359.2 246.8 L356.8 246.8Z M358.2 240.5 L359.7 240.5 L359.7 239.0 L361.2 239.0 L361.2 240.5 L361.2 241.9 L361.2 243.4 L359.7 243.4 L359.7 244.8 L359.7 246.3 L361.2 246.3 L361.2 247.7 L361.2 249.2 L362.6 249.2 L362.6 250.6 L364.1 250.6 L364.1 252.1 L365.5 252.1 L366.9 252.1 L368.4 252.1 L369.9 252.1 L369.9 250.6 L371.3 250.6 L371.3 249.2 L372.8 249.2 L372.8 247.7 L374.2 247.7 L375.7 247.7 L375.7 246.3 L377.1 246.3 L378.6 246.3 L380.0 246.3 L380.0 247.7 L380.0 249.2 L378.6 249.2 L378.6 250.6 L378.6 252.1 L378.6 253.5 L380.0 253.5 L380.0 252.1 L380.0 250.6 L380.0 249.2 M369.9 256.4 L369.9 255.0 L371.3 255.0 L371.3 253.5 L372.8 253.5 L372.8 252.1 L374.2 252.1 L375.7 252.1 L377.1 252.1 L377.1 253.5 L377.1 255.0 L377.1 256.4 L375.7 256.4 L375.7 257.9 L374.2 257.9 L372.8 257.9 L372.8 259.4 L371.3 259.4 L369.9 259.4 L369.9 257.9Z M365.0 259.4 L366.5 259.4 L366.5 260.8 L367.8 260.8 L367.8 262.4 L365.0 262.4Z M365.5 239.0 L366.9 239.0 L368.4 239.0 L369.9 239.0 L371.3 239.0 L371.3 240.5 L371.3 241.9 L371.3 243.4 L371.3 244.8 L372.8 244.8 L374.2 244.8 L375.7 244.8 L375.7 243.4 L375.7 241.9 L375.7 240.5 L377.1 240.5 M373.6 235.4 L374.9 235.4 L374.9 237.0 L376.0 237.0 L376.0 239.0 L373.6 239.0Z M378.6 239.0 L380.0 239.0 L381.4 239.0 L381.4 240.5 L381.4 241.9 L380.0 241.9 L378.6 241.9 L378.6 240.5Z M383.8 246.2 L385.1 246.2 L385.1 247.5 L386.2 247.5 L386.2 249.2 L383.8 249.2Z M387.4 251.0 L389.2 251.0 L389.2 253.4 L387.4 253.4Z M391.6 250.4 L393.4 250.4 L393.4 252.8 L391.6 252.8Z M391.6 242.0 L391.4 243.1 L390.8 243.7 L390.0 243.7 L389.4 243.1 L389.2 242.0 L389.4 240.9 L390.0 240.3 L390.8 240.3 L391.4 240.9Z M394.5 243.4 L395.9 243.4 L395.9 244.8 L395.9 246.3 L394.5 246.3 L394.5 244.8Z M400.3 253.5 L398.9 253.5 L397.4 253.5 L395.9 253.5 L395.9 255.0 L394.5 255.0 L393.1 255.0 L393.1 256.4 L393.1 257.9 L393.1 259.4 L393.1 260.8 L393.1 262.2 L394.5 262.2 M394.5 234.7 L395.9 234.7 L397.4 234.7 L398.9 234.7 L398.9 236.1 L398.9 237.6 L400.3 237.6 L400.3 239.0 L398.9 239.0 L397.4 239.0 L395.9 239.0 L395.9 237.6 L395.9 236.1 L395.9 234.7Z M394.5 253.5 L395.9 253.5 L397.4 253.5 L398.9 253.5 L400.3 253.5 L400.3 252.1 L401.8 252.1 L403.2 252.1 L404.7 252.1 L406.1 252.1 L407.6 252.1 L409.0 252.1 L409.0 250.6 L409.0 249.2 L410.4 249.2 L410.4 247.7 L410.4 246.3 L410.4 244.8 L409.0 244.8 L409.0 243.4 L410.4 243.4 L411.9 243.4 L413.4 243.4 L414.8 243.4 L416.2 243.4 L417.7 243.4 L417.7 241.9 L419.1 241.9 L420.6 241.9 L420.6 243.4 L420.6 244.8 L420.6 246.3 L422.1 246.3 L422.1 244.8 L422.1 243.4 L423.5 243.4 L424.9 243.4 L426.4 243.4 L427.9 243.4 L427.9 244.8 L427.9 246.3 L429.3 246.3 L429.3 247.7 L429.3 249.2 L429.3 250.6 L427.9 250.6 L426.4 250.6 L424.9 250.6 L424.9 252.1 L424.9 253.5 L424.9 255.0 L424.9 256.4 L424.9 257.9 L424.9 259.4 L423.5 259.4 L422.1 259.4 L420.6 259.4 L420.6 257.9 L420.6 256.4 L419.1 256.4 L417.7 256.4 L417.7 255.0 L416.2 255.0 L416.2 253.5 L414.8 253.5 L414.8 252.1 L414.8 250.6 L414.8 249.2 L414.8 247.7 L414.8 246.3 M417.7 256.4 L417.7 257.9 L417.7 259.4 L417.7 260.8 L417.7 262.2 M400.3 236.1 L401.8 236.1 L401.8 234.7 L403.2 234.7 L403.2 236.1 L404.7 236.1 L404.7 237.6 L404.7 239.0 L403.2 239.0 L403.2 240.5 L401.8 240.5 L401.8 239.0 L400.3 239.0 L400.3 237.6Z M410.4 234.7 L411.9 234.7 L413.4 234.7 L414.8 234.7 L414.8 236.1 L413.4 236.1 L413.4 237.6 L413.4 239.0 L411.9 239.0 L410.4 239.0 L410.4 237.6 L410.4 236.1Z M414.8 236.1 L416.2 236.1 L416.2 237.6 L417.7 237.6 L417.7 239.0 L417.7 240.5 L419.1 240.5 L419.1 241.9 L417.7 241.9 L417.7 240.5 L416.2 240.5 L416.2 239.0 L416.2 237.6 L414.8 237.6Z M419.1 234.7 L420.6 234.7 L422.1 234.7 L423.5 234.7 L424.9 234.7 L424.9 236.1 L423.5 236.1 L423.5 237.6 L422.1 237.6 L420.6 237.6 L420.6 236.1 L419.1 236.1Z M395.9 243.4 L395.9 244.8 L395.9 246.3 L395.9 247.7 M432.2 243.4 L432.2 244.8 L432.2 246.3 L433.6 246.3 L433.6 244.8 L435.1 244.8 L435.1 246.3 L435.1 247.7 L435.1 249.2 L436.6 249.2 L436.6 250.6 L436.6 252.1 M432.2 244.8 L432.2 246.3 L432.2 247.7 L432.2 249.2 L433.6 249.2 L433.6 250.6 M433.6 256.4 L433.6 257.9 L435.1 257.9 L435.1 259.4 L436.6 259.4 L436.6 260.8 L436.6 262.2 L438.0 262.2 M433.6 257.9 L433.6 259.4 L433.6 260.8 L433.6 262.2 L435.1 262.2" fill="none" stroke="#2a2118" stroke-width="0.5" stroke-linejoin="miter"/>
<rect x="342.3" y="150.6" width="111.40" height="112.00" fill="none" stroke="#333" stroke-width="0.6"/>
</g>
<g>
<rect x="461.2" y="150.6" width="5.70" height="112.00" fill="url(#cbg)"/>
<rect x="461.2" y="150.6" width="5.70" height="112.00" fill="none" stroke="#333" stroke-width="0.6"/>
<line x1="466.9" y1="262.60" x2="469.10" y2="262.60" stroke="#222" stroke-width="0.5"/>
<text transform="translate(470.90 265.45) scale(0.95 1) rotate(0.05)" font-size="7.7" fill="#000" stroke="#000" stroke-width="0.2">130</text>
<line x1="466.9" y1="248.60" x2="469.10" y2="248.60" stroke="#222" stroke-width="0.5"/>
<text transform="translate(470.90 251.45) scale(0.95 1) rotate(0.05)" font-size="7.7" fill="#000" stroke="#000" stroke-width="0.2">140</text>
<line x1="466.9" y1="234.60" x2="469.10" y2="234.60" stroke="#222" stroke-width="0.5"/>
<text transform="translate(470.90 237.45) scale(0.95 1) rotate(0.05)" font-size="7.7" fill="#000" stroke="#000" stroke-width="0.2">150</text>
<line x1="466.9" y1="220.60" x2="469.10" y2="220.60" stroke="#222" stroke-width="0.5"/>
<text transform="translate(470.90 223.45) scale(0.95 1) rotate(0.05)" font-size="7.7" fill="#000" stroke="#000" stroke-width="0.2">160</text>
<line x1="466.9" y1="206.60" x2="469.10" y2="206.60" stroke="#222" stroke-width="0.5"/>
<text transform="translate(470.90 209.45) scale(0.95 1) rotate(0.05)" font-size="7.7" fill="#000" stroke="#000" stroke-width="0.2">170</text>
<line x1="466.9" y1="192.60" x2="469.10" y2="192.60" stroke="#222" stroke-width="0.5"/>
<text transform="translate(470.90 195.45) scale(0.95 1) rotate(0.05)" font-size="7.7" fill="#000" stroke="#000" stroke-width="0.2">180</text>
<line x1="466.9" y1="178.60" x2="469.10" y2="178.60" stroke="#222" stroke-width="0.5"/>
<text transform="translate(470.90 181.45) scale(0.95 1) rotate(0.05)" font-size="7.7" fill="#000" stroke="#000" stroke-width="0.2">190</text>
<line x1="466.9" y1="164.60" x2="469.10" y2="164.60" stroke="#222" stroke-width="0.5"/>
<text transform="translate(470.90 167.45) scale(0.95 1) rotate(0.05)" font-size="7.7" fill="#000" stroke="#000" stroke-width="0.2">200</text>
<line x1="466.9" y1="150.60" x2="469.10" y2="150.60" stroke="#222" stroke-width="0.5"/>
<text transform="translate(470.90 153.45) scale(0.95 1) rotate(0.05)" font-size="7.7" fill="#000" stroke="#000" stroke-width="0.2">210</text>
<line x1="466.90" y1="255.60" x2="467.90" y2="255.60" stroke="#222" stroke-width="0.5"/>
<line x1="466.90" y1="241.60" x2="467.90" y2="241.60" stroke="#222" stroke-width="0.5"/>
<line x1="466.90" y1="227.60" x2="467.90" y2="227.60" stroke="#222" stroke-width="0.5"/>
<line x1="466.90" y1="213.60" x2="467.90" y2="213.60" stroke="#222" stroke-width="0.5"/>
<line x1="466.90" y1="199.60" x2="467.90" y2="199.60" stroke="#222" stroke-width="0.5"/>
<line x1="466.90" y1="185.60" x2="467.90" y2="185.60" stroke="#222" stroke-width="0.5"/>
<line x1="466.90" y1="171.60" x2="467.90" y2="171.60" stroke="#222" stroke-width="0.5"/>
<line x1="466.90" y1="157.60" x2="467.90" y2="157.60" stroke="#222" stroke-width="0.5"/>
</g>
<text transform="translate(75.05 13.3) rotate(0.05)" font-size="10.4" text-anchor="middle" fill="#000" stroke="#000" stroke-width="0.2">Region 1</text>
<text transform="translate(239.0 13.3) rotate(0.05)" font-size="10.4" text-anchor="middle" fill="#000" stroke="#000" stroke-width="0.2">Region 2</text>
<text transform="translate(402.3 13.3) rotate(0.05)" font-size="10.4" text-anchor="middle" fill="#000" stroke="#000" stroke-width="0.2">Region 3</text>
<text transform="translate(10.2 17.0) scale(0.9 1) rotate(0.05)" font-size="12.8" font-weight="bold" fill="#000" stroke="#000" stroke-width="0.4">a</text>
<text transform="translate(172.0 17.0) scale(0.9 1) rotate(0.05)" font-size="12.8" font-weight="bold" fill="#000" stroke="#000" stroke-width="0.4">b</text>
<text transform="translate(334.2 17.0) scale(0.9 1) rotate(0.05)" font-size="12.8" font-weight="bold" fill="#000" stroke="#000" stroke-width="0.4">c</text>
<text transform="translate(10.5 148.2) scale(0.9 1) rotate(0.05)" font-size="12.8" font-weight="bold" fill="#000" stroke="#000" stroke-width="0.4">d</text>
<text transform="translate(171.8 148.2) scale(0.9 1) rotate(0.05)" font-size="12.8" font-weight="bold" fill="#000" stroke="#000" stroke-width="0.4">e</text>
<text transform="translate(334.5 148.2) scale(0.9 1) rotate(0.05)" font-size="12.8" font-weight="bold" fill="#000" stroke="#000" stroke-width="0.4">f</text>
<text transform="translate(13.1 76.1) rotate(-89.95)" font-size="10.5" text-anchor="middle" fill="#000" stroke="#000" stroke-width="0.2">2018</text>
<text transform="translate(13.1 207.2) rotate(-89.95)" font-size="10.5" text-anchor="middle" fill="#000" stroke="#000" stroke-width="0.2">2019</text>
<text transform="translate(493.7 73.4) rotate(-89.95)" font-size="8.6" text-anchor="middle" fill="#000" stroke="#000" stroke-width="0.15">DOY</text>
<text transform="translate(494.2 205.0) rotate(-89.95)" font-size="8.6" text-anchor="middle" fill="#000" stroke="#000" stroke-width="0.15">DOY</text>
</svg></body></html>
